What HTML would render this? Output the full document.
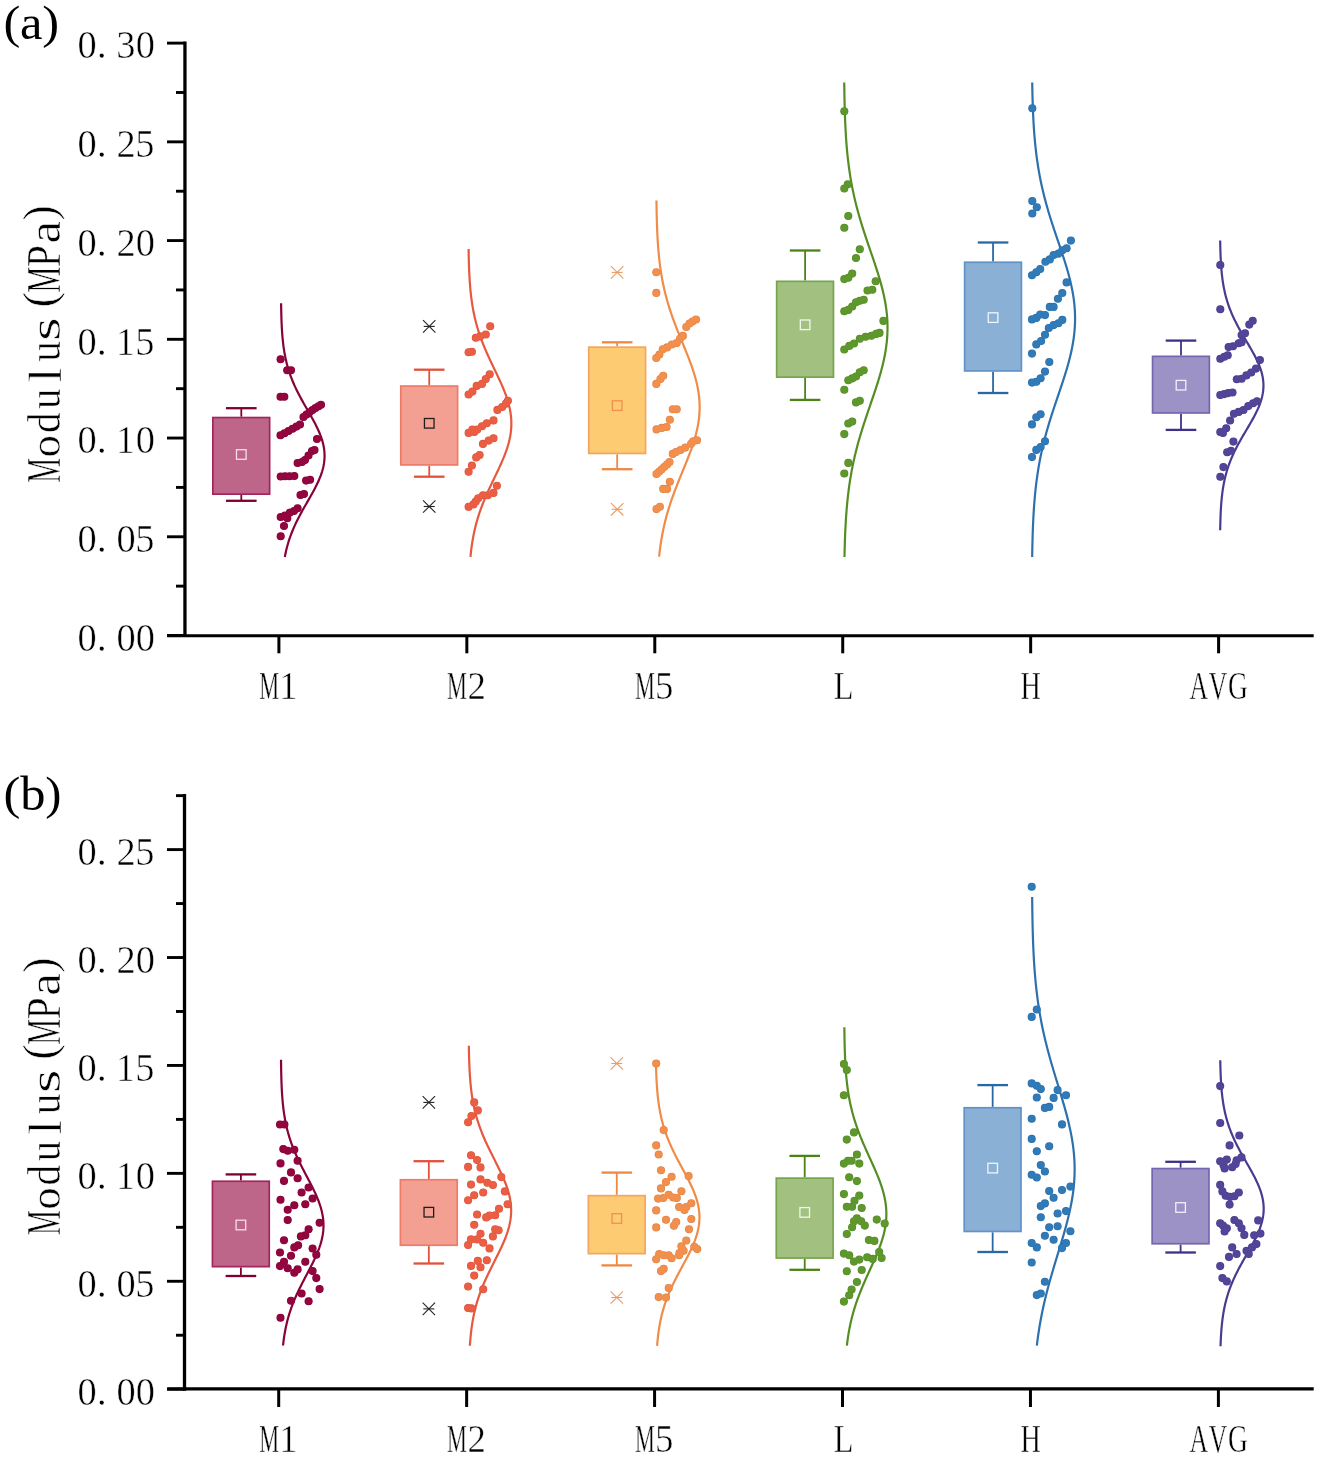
<!DOCTYPE html><html><head><meta charset="utf-8"><style>html,body{margin:0;padding:0;background:#fff;overflow:hidden;width:1319px;height:1458px;}svg{display:block;}.g{font-family:"Liberation Serif", serif;font-size:40px;fill:#000;stroke:#fff;stroke-width:0.5px;}.p{font-family:"Liberation Serif", serif;font-size:40px;fill:#000;}.xl{font-family:"Liberation Serif", serif;font-size:40px;fill:#000;}.pl{font-family:"Liberation Serif", serif;font-size:48px;fill:#000;}.yt{font-family:"Liberation Serif", serif;font-size:45px;fill:#000;}</style></head><body>
<svg width="1319" height="1458" viewBox="0 0 1319 1458">
<rect width="1319" height="1458" fill="#fff"/>
<defs><filter id="gf" x="0" y="0" width="1" height="1"><feOffset dx="0" dy="0"/></filter></defs>
<line x1="184.95" y1="41.6" x2="184.95" y2="637.0" stroke="#000" stroke-width="3.3"/>
<line x1="167.2" y1="635.75" x2="1313.7" y2="635.75" stroke="#000" stroke-width="3.2"/>
<line x1="167" y1="635.50" x2="184.95" y2="635.50" stroke="#000" stroke-width="2.9"/>
<line x1="176" y1="586.13" x2="184.95" y2="586.13" stroke="#000" stroke-width="2.9"/>
<line x1="167" y1="536.77" x2="184.95" y2="536.77" stroke="#000" stroke-width="2.9"/>
<line x1="176" y1="487.40" x2="184.95" y2="487.40" stroke="#000" stroke-width="2.9"/>
<line x1="167" y1="438.04" x2="184.95" y2="438.04" stroke="#000" stroke-width="2.9"/>
<line x1="176" y1="388.68" x2="184.95" y2="388.68" stroke="#000" stroke-width="2.9"/>
<line x1="167" y1="339.31" x2="184.95" y2="339.31" stroke="#000" stroke-width="2.9"/>
<line x1="176" y1="289.94" x2="184.95" y2="289.94" stroke="#000" stroke-width="2.9"/>
<line x1="167" y1="240.58" x2="184.95" y2="240.58" stroke="#000" stroke-width="2.9"/>
<line x1="176" y1="191.22" x2="184.95" y2="191.22" stroke="#000" stroke-width="2.9"/>
<line x1="167" y1="141.85" x2="184.95" y2="141.85" stroke="#000" stroke-width="2.9"/>
<line x1="176" y1="92.49" x2="184.95" y2="92.49" stroke="#000" stroke-width="2.9"/>
<line x1="167" y1="43.12" x2="184.95" y2="43.12" stroke="#000" stroke-width="2.9"/>
<line x1="278.90" y1="635.5" x2="278.90" y2="653.3" stroke="#000" stroke-width="3.0"/>
<line x1="466.84" y1="635.5" x2="466.84" y2="653.3" stroke="#000" stroke-width="3.0"/>
<line x1="654.78" y1="635.5" x2="654.78" y2="653.3" stroke="#000" stroke-width="3.0"/>
<line x1="842.72" y1="635.5" x2="842.72" y2="653.3" stroke="#000" stroke-width="3.0"/>
<line x1="1030.66" y1="635.5" x2="1030.66" y2="653.3" stroke="#000" stroke-width="3.0"/>
<line x1="1218.60" y1="635.5" x2="1218.60" y2="653.3" stroke="#000" stroke-width="3.0"/>
<line x1="241.30" y1="408.2" x2="241.30" y2="416.7" stroke="#7E0032" stroke-width="1.8"/>
<line x1="241.30" y1="495.0" x2="241.30" y2="500.8" stroke="#7E0032" stroke-width="1.8"/>
<line x1="226.00" y1="408.2" x2="256.60" y2="408.2" stroke="#7E0032" stroke-width="2.3"/>
<line x1="226.00" y1="500.8" x2="256.60" y2="500.8" stroke="#7E0032" stroke-width="2.3"/>
<rect x="212.85" y="417.55" width="56.80" height="76.60" fill="#BE6689" stroke="#A2265C" stroke-width="1.7"/>
<rect x="236.50" y="449.70" width="9.6" height="9.6" fill="none" stroke="#F4E0EA" stroke-width="1.3"/>
<path d="M281.10,303.20 L281.12,304.48 L281.14,305.75 L281.16,307.03 L281.18,308.30 L281.20,309.58 L281.23,310.85 L281.25,312.13 L281.28,313.40 L281.32,314.68 L281.35,315.95 L281.39,317.23 L281.43,318.50 L281.47,319.78 L281.52,321.06 L281.57,322.33 L281.63,323.61 L281.68,324.88 L281.75,326.16 L281.81,327.43 L281.88,328.71 L281.96,329.98 L282.04,331.26 L282.13,332.53 L282.22,333.81 L282.32,335.08 L282.42,336.36 L282.54,337.64 L282.65,338.91 L282.78,340.19 L282.91,341.46 L283.06,342.74 L283.20,344.01 L283.36,345.29 L283.53,346.56 L283.71,347.84 L283.89,349.11 L284.09,350.39 L284.29,351.66 L284.51,352.94 L284.74,354.22 L284.98,355.49 L285.23,356.77 L285.49,358.04 L285.77,359.32 L286.06,360.59 L286.36,361.87 L286.67,363.14 L287.00,364.42 L287.34,365.69 L287.70,366.97 L288.06,368.24 L288.45,369.52 L288.85,370.79 L289.26,372.07 L289.69,373.35 L290.13,374.62 L290.59,375.90 L291.06,377.17 L291.55,378.45 L292.05,379.72 L292.57,381.00 L293.10,382.27 L293.65,383.55 L294.21,384.82 L294.78,386.10 L295.37,387.37 L295.97,388.65 L296.59,389.93 L297.22,391.20 L297.86,392.48 L298.51,393.75 L299.17,395.03 L299.84,396.30 L300.53,397.58 L301.22,398.85 L301.92,400.13 L302.63,401.40 L303.34,402.68 L304.06,403.95 L304.79,405.23 L305.51,406.51 L306.24,407.78 L306.98,409.06 L307.71,410.33 L308.44,411.61 L309.18,412.88 L309.90,414.16 L310.63,415.43 L311.35,416.71 L312.06,417.98 L312.77,419.26 L313.46,420.53 L314.15,421.81 L314.82,423.09 L315.48,424.36 L316.13,425.64 L316.76,426.91 L317.38,428.19 L317.97,429.46 L318.55,430.74 L319.11,432.01 L319.65,433.29 L320.16,434.56 L320.65,435.84 L321.11,437.11 L321.55,438.39 L321.97,439.67 L322.35,440.94 L322.71,442.22 L323.03,443.49 L323.33,444.77 L323.60,446.04 L323.83,447.32 L324.04,448.59 L324.21,449.87 L324.34,451.14 L324.45,452.42 L324.52,453.69 L324.56,454.97 L324.57,456.25 L324.54,457.52 L324.48,458.80 L324.38,460.07 L324.25,461.35 L324.09,462.62 L323.90,463.90 L323.67,465.17 L323.42,466.45 L323.13,467.72 L322.81,469.00 L322.46,470.27 L322.09,471.55 L321.68,472.83 L321.25,474.10 L320.79,475.38 L320.31,476.65 L319.80,477.93 L319.27,479.20 L318.72,480.48 L318.15,481.75 L317.56,483.03 L316.95,484.30 L316.32,485.58 L315.68,486.85 L315.02,488.13 L314.35,489.41 L313.67,490.68 L312.98,491.96 L312.28,493.23 L311.57,494.51 L310.85,495.78 L310.13,497.06 L309.40,498.33 L308.67,499.61 L307.93,500.88 L307.20,502.16 L306.47,503.43 L305.74,504.71 L305.01,505.98 L304.28,507.26 L303.56,508.54 L302.84,509.81 L302.13,511.09 L301.43,512.36 L300.74,513.64 L300.05,514.91 L299.37,516.19 L298.71,517.46 L298.05,518.74 L297.41,520.01 L296.78,521.29 L296.16,522.56 L295.55,523.84 L294.96,525.12 L294.38,526.39 L293.82,527.67 L293.27,528.94 L292.73,530.22 L292.21,531.49 L291.70,532.77 L291.21,534.04 L290.73,535.32 L290.27,536.59 L289.82,537.87 L289.39,539.14 L288.97,540.42 L288.57,541.70 L288.18,542.97 L287.81,544.25 L287.45,545.52 L287.10,546.80 L286.77,548.07 L286.45,549.35 L286.15,550.62 L285.85,551.90 L285.57,553.17 L285.31,554.45 L285.05,555.72 L284.81,557.00" fill="none" stroke="#880238" stroke-width="2.2"/>
<g fill="#870439"><circle cx="280.6" cy="359.2" r="4.05"/><circle cx="287.2" cy="370.2" r="4.05"/><circle cx="291.0" cy="370.2" r="4.05"/><circle cx="280.5" cy="396.7" r="4.05"/><circle cx="284.3" cy="396.7" r="4.05"/><circle cx="280.5" cy="435.3" r="4.05"/><circle cx="284.5" cy="433.2" r="4.05"/><circle cx="288.5" cy="431" r="4.05"/><circle cx="292.5" cy="428.8" r="4.05"/><circle cx="296.5" cy="426.6" r="4.05"/><circle cx="300" cy="424.5" r="4.05"/><circle cx="303.5" cy="417" r="4.05"/><circle cx="306.5" cy="414.5" r="4.05"/><circle cx="309.5" cy="412.2" r="4.05"/><circle cx="312.5" cy="410" r="4.05"/><circle cx="315.5" cy="408" r="4.05"/><circle cx="318.5" cy="406.2" r="4.05"/><circle cx="321" cy="404.8" r="4.05"/><circle cx="317" cy="439" r="4.05"/><circle cx="297.6" cy="463" r="4.05"/><circle cx="302" cy="462" r="4.05"/><circle cx="305" cy="460" r="4.05"/><circle cx="308.5" cy="455.5" r="4.05"/><circle cx="312" cy="451" r="4.05"/><circle cx="314.5" cy="450" r="4.05"/><circle cx="280.7" cy="476.5" r="4.05"/><circle cx="285" cy="476.3" r="4.05"/><circle cx="289.5" cy="476.2" r="4.05"/><circle cx="294.3" cy="476" r="4.05"/><circle cx="306.1" cy="480.6" r="4.05"/><circle cx="310.1" cy="479.8" r="4.05"/><circle cx="300.5" cy="495" r="4.05"/><circle cx="304" cy="494" r="4.05"/><circle cx="280.7" cy="517" r="4.05"/><circle cx="285" cy="515.5" r="4.05"/><circle cx="290" cy="512.5" r="4.05"/><circle cx="294" cy="511" r="4.05"/><circle cx="297.6" cy="508.3" r="4.05"/><circle cx="287.3" cy="518.2" r="4.05"/><circle cx="284" cy="526" r="4.05"/><circle cx="280.7" cy="536.3" r="4.05"/></g>
<g fill="#93053F"><circle cx="280.6" cy="359.2" r="3.5"/><circle cx="287.2" cy="370.2" r="3.5"/><circle cx="291.0" cy="370.2" r="3.5"/><circle cx="280.5" cy="396.7" r="3.5"/><circle cx="284.3" cy="396.7" r="3.5"/><circle cx="280.5" cy="435.3" r="3.5"/><circle cx="284.5" cy="433.2" r="3.5"/><circle cx="288.5" cy="431" r="3.5"/><circle cx="292.5" cy="428.8" r="3.5"/><circle cx="296.5" cy="426.6" r="3.5"/><circle cx="300" cy="424.5" r="3.5"/><circle cx="303.5" cy="417" r="3.5"/><circle cx="306.5" cy="414.5" r="3.5"/><circle cx="309.5" cy="412.2" r="3.5"/><circle cx="312.5" cy="410" r="3.5"/><circle cx="315.5" cy="408" r="3.5"/><circle cx="318.5" cy="406.2" r="3.5"/><circle cx="321" cy="404.8" r="3.5"/><circle cx="317" cy="439" r="3.5"/><circle cx="297.6" cy="463" r="3.5"/><circle cx="302" cy="462" r="3.5"/><circle cx="305" cy="460" r="3.5"/><circle cx="308.5" cy="455.5" r="3.5"/><circle cx="312" cy="451" r="3.5"/><circle cx="314.5" cy="450" r="3.5"/><circle cx="280.7" cy="476.5" r="3.5"/><circle cx="285" cy="476.3" r="3.5"/><circle cx="289.5" cy="476.2" r="3.5"/><circle cx="294.3" cy="476" r="3.5"/><circle cx="306.1" cy="480.6" r="3.5"/><circle cx="310.1" cy="479.8" r="3.5"/><circle cx="300.5" cy="495" r="3.5"/><circle cx="304" cy="494" r="3.5"/><circle cx="280.7" cy="517" r="3.5"/><circle cx="285" cy="515.5" r="3.5"/><circle cx="290" cy="512.5" r="3.5"/><circle cx="294" cy="511" r="3.5"/><circle cx="297.6" cy="508.3" r="3.5"/><circle cx="287.3" cy="518.2" r="3.5"/><circle cx="284" cy="526" r="3.5"/><circle cx="280.7" cy="536.3" r="3.5"/></g>
<line x1="429.24" y1="369.7" x2="429.24" y2="385.2" stroke="#E2523A" stroke-width="1.8"/>
<line x1="429.24" y1="465.8" x2="429.24" y2="476.7" stroke="#E2523A" stroke-width="1.8"/>
<line x1="413.94" y1="369.7" x2="444.54" y2="369.7" stroke="#E2523A" stroke-width="2.3"/>
<line x1="413.94" y1="476.7" x2="444.54" y2="476.7" stroke="#E2523A" stroke-width="2.3"/>
<rect x="400.79" y="386.05" width="56.80" height="78.90" fill="#F3A092" stroke="#EE7B66" stroke-width="1.7"/>
<rect x="424.44" y="418.50" width="9.6" height="9.6" fill="none" stroke="#1E1E1E" stroke-width="1.3"/>
<g stroke="#222222" stroke-width="1.1" fill="none"><line x1="423.04" y1="320.20" x2="435.44" y2="332.60"/><line x1="423.04" y1="332.60" x2="435.44" y2="320.20"/><line x1="423.74" y1="326.4" x2="434.74" y2="326.4"/></g>
<g stroke="#222222" stroke-width="1.1" fill="none"><line x1="423.04" y1="500.30" x2="435.44" y2="512.70"/><line x1="423.04" y1="512.70" x2="435.44" y2="500.30"/><line x1="423.74" y1="506.5" x2="434.74" y2="506.5"/></g>
<path d="M468.60,249.10 L468.62,250.65 L468.65,252.19 L468.68,253.74 L468.71,255.28 L468.74,256.83 L468.78,258.38 L468.81,259.92 L468.86,261.47 L468.90,263.02 L468.95,264.56 L469.00,266.11 L469.05,267.65 L469.11,269.20 L469.18,270.75 L469.24,272.29 L469.32,273.84 L469.40,275.39 L469.48,276.93 L469.57,278.48 L469.67,280.02 L469.77,281.57 L469.88,283.12 L469.99,284.66 L470.11,286.21 L470.24,287.76 L470.38,289.30 L470.53,290.85 L470.69,292.39 L470.85,293.94 L471.03,295.49 L471.21,297.03 L471.40,298.58 L471.61,300.13 L471.83,301.67 L472.05,303.22 L472.29,304.76 L472.54,306.31 L472.81,307.86 L473.08,309.40 L473.37,310.95 L473.68,312.50 L473.99,314.04 L474.32,315.59 L474.67,317.13 L475.03,318.68 L475.40,320.23 L475.79,321.77 L476.20,323.32 L476.62,324.87 L477.05,326.41 L477.50,327.96 L477.97,329.50 L478.45,331.05 L478.95,332.60 L479.46,334.14 L479.99,335.69 L480.53,337.24 L481.09,338.78 L481.66,340.33 L482.25,341.87 L482.85,343.42 L483.47,344.97 L484.10,346.51 L484.74,348.06 L485.39,349.61 L486.06,351.15 L486.73,352.70 L487.42,354.24 L488.12,355.79 L488.82,357.34 L489.54,358.88 L490.26,360.43 L490.99,361.97 L491.72,363.52 L492.46,365.07 L493.20,366.61 L493.94,368.16 L494.68,369.71 L495.42,371.25 L496.16,372.80 L496.90,374.34 L497.63,375.89 L498.36,377.44 L499.08,378.98 L499.80,380.53 L500.50,382.08 L501.19,383.62 L501.87,385.17 L502.54,386.71 L503.19,388.26 L503.82,389.81 L504.44,391.35 L505.04,392.90 L505.62,394.45 L506.18,395.99 L506.71,397.54 L507.22,399.08 L507.70,400.63 L508.16,402.18 L508.59,403.72 L509.00,405.27 L509.37,406.82 L509.71,408.36 L510.03,409.91 L510.31,411.45 L510.56,413.00 L510.77,414.55 L510.96,416.09 L511.10,417.64 L511.22,419.19 L511.30,420.73 L511.34,422.28 L511.35,423.82 L511.33,425.37 L511.27,426.92 L511.18,428.46 L511.05,430.01 L510.89,431.56 L510.69,433.10 L510.46,434.65 L510.20,436.19 L509.90,437.74 L509.58,439.29 L509.22,440.83 L508.84,442.38 L508.42,443.93 L507.98,445.47 L507.51,447.02 L507.01,448.56 L506.49,450.11 L505.95,451.66 L505.38,453.20 L504.80,454.75 L504.19,456.29 L503.57,457.84 L502.92,459.39 L502.27,460.93 L501.59,462.48 L500.91,464.03 L500.21,465.57 L499.50,467.12 L498.79,468.66 L498.06,470.21 L497.33,471.76 L496.60,473.30 L495.86,474.85 L495.12,476.40 L494.37,477.94 L493.63,479.49 L492.89,481.03 L492.15,482.58 L491.42,484.13 L490.69,485.67 L489.96,487.22 L489.24,488.77 L488.53,490.31 L487.83,491.86 L487.14,493.40 L486.45,494.95 L485.78,496.50 L485.12,498.04 L484.47,499.59 L483.84,501.14 L483.21,502.68 L482.60,504.23 L482.01,505.77 L481.42,507.32 L480.86,508.87 L480.31,510.41 L479.77,511.96 L479.25,513.51 L478.74,515.05 L478.25,516.60 L477.77,518.14 L477.32,519.69 L476.87,521.24 L476.44,522.78 L476.03,524.33 L475.63,525.88 L475.25,527.42 L474.88,528.97 L474.53,530.51 L474.19,532.06 L473.86,533.61 L473.55,535.15 L473.25,536.70 L472.97,538.25 L472.70,539.79 L472.44,541.34 L472.19,542.88 L471.96,544.43 L471.74,545.98 L471.52,547.52 L471.32,549.07 L471.13,550.62 L470.95,552.16 L470.78,553.71 L470.62,555.25 L470.47,556.80" fill="none" stroke="#E6583F" stroke-width="2.2"/>
<g fill="#D8563E"><circle cx="490.2" cy="326.3" r="4.05"/><circle cx="475.8" cy="337.8" r="4.05"/><circle cx="480.1" cy="336.4" r="4.05"/><circle cx="485.8" cy="334.5" r="4.05"/><circle cx="468.6" cy="352.2" r="4.05"/><circle cx="471.9" cy="351.8" r="4.05"/><circle cx="468.6" cy="394.5" r="4.05"/><circle cx="472.4" cy="391.6" r="4.05"/><circle cx="476.7" cy="385.9" r="4.05"/><circle cx="482" cy="383.9" r="4.05"/><circle cx="485.8" cy="379.1" r="4.05"/><circle cx="489.7" cy="374.3" r="4.05"/><circle cx="497.4" cy="409.9" r="4.05"/><circle cx="502.2" cy="407" r="4.05"/><circle cx="506" cy="403.6" r="4.05"/><circle cx="507.9" cy="400.7" r="4.05"/><circle cx="468.6" cy="432.9" r="4.05"/><circle cx="472.4" cy="429.5" r="4.05"/><circle cx="477.2" cy="429.5" r="4.05"/><circle cx="482" cy="426.2" r="4.05"/><circle cx="486.8" cy="423.3" r="4.05"/><circle cx="493.5" cy="420.4" r="4.05"/><circle cx="474.3" cy="431.9" r="4.05"/><circle cx="483" cy="443.9" r="4.05"/><circle cx="488.7" cy="440.6" r="4.05"/><circle cx="493.5" cy="438.2" r="4.05"/><circle cx="476.2" cy="457.4" r="4.05"/><circle cx="479.6" cy="455" r="4.05"/><circle cx="471.9" cy="465.5" r="4.05"/><circle cx="468.6" cy="471.8" r="4.05"/><circle cx="496.9" cy="485.7" r="4.05"/><circle cx="468.6" cy="506.8" r="4.05"/><circle cx="473.4" cy="504.4" r="4.05"/><circle cx="475.8" cy="501.6" r="4.05"/><circle cx="478.2" cy="498.2" r="4.05"/><circle cx="483" cy="495.3" r="4.05"/><circle cx="487.8" cy="495.3" r="4.05"/><circle cx="493.5" cy="492.9" r="4.05"/></g>
<g fill="#EB5E44"><circle cx="490.2" cy="326.3" r="3.5"/><circle cx="475.8" cy="337.8" r="3.5"/><circle cx="480.1" cy="336.4" r="3.5"/><circle cx="485.8" cy="334.5" r="3.5"/><circle cx="468.6" cy="352.2" r="3.5"/><circle cx="471.9" cy="351.8" r="3.5"/><circle cx="468.6" cy="394.5" r="3.5"/><circle cx="472.4" cy="391.6" r="3.5"/><circle cx="476.7" cy="385.9" r="3.5"/><circle cx="482" cy="383.9" r="3.5"/><circle cx="485.8" cy="379.1" r="3.5"/><circle cx="489.7" cy="374.3" r="3.5"/><circle cx="497.4" cy="409.9" r="3.5"/><circle cx="502.2" cy="407" r="3.5"/><circle cx="506" cy="403.6" r="3.5"/><circle cx="507.9" cy="400.7" r="3.5"/><circle cx="468.6" cy="432.9" r="3.5"/><circle cx="472.4" cy="429.5" r="3.5"/><circle cx="477.2" cy="429.5" r="3.5"/><circle cx="482" cy="426.2" r="3.5"/><circle cx="486.8" cy="423.3" r="3.5"/><circle cx="493.5" cy="420.4" r="3.5"/><circle cx="474.3" cy="431.9" r="3.5"/><circle cx="483" cy="443.9" r="3.5"/><circle cx="488.7" cy="440.6" r="3.5"/><circle cx="493.5" cy="438.2" r="3.5"/><circle cx="476.2" cy="457.4" r="3.5"/><circle cx="479.6" cy="455" r="3.5"/><circle cx="471.9" cy="465.5" r="3.5"/><circle cx="468.6" cy="471.8" r="3.5"/><circle cx="496.9" cy="485.7" r="3.5"/><circle cx="468.6" cy="506.8" r="3.5"/><circle cx="473.4" cy="504.4" r="3.5"/><circle cx="475.8" cy="501.6" r="3.5"/><circle cx="478.2" cy="498.2" r="3.5"/><circle cx="483" cy="495.3" r="3.5"/><circle cx="487.8" cy="495.3" r="3.5"/><circle cx="493.5" cy="492.9" r="3.5"/></g>
<line x1="617.18" y1="342.3" x2="617.18" y2="346.3" stroke="#EE8842" stroke-width="1.8"/>
<line x1="617.18" y1="454.3" x2="617.18" y2="469.2" stroke="#EE8842" stroke-width="1.8"/>
<line x1="601.88" y1="342.3" x2="632.48" y2="342.3" stroke="#EE8842" stroke-width="2.3"/>
<line x1="601.88" y1="469.2" x2="632.48" y2="469.2" stroke="#EE8842" stroke-width="2.3"/>
<rect x="588.73" y="347.15" width="56.80" height="106.30" fill="#FCCB72" stroke="#F5A462" stroke-width="1.7"/>
<rect x="612.38" y="400.80" width="9.6" height="9.6" fill="none" stroke="#F38F4C" stroke-width="1.3"/>
<g stroke="#EC9A62" stroke-width="1.1" fill="none"><line x1="610.98" y1="266.20" x2="623.38" y2="278.60"/><line x1="610.98" y1="278.60" x2="623.38" y2="266.20"/><line x1="611.68" y1="272.4" x2="622.68" y2="272.4"/></g>
<g stroke="#EC9A62" stroke-width="1.1" fill="none"><line x1="610.98" y1="503.10" x2="623.38" y2="515.50"/><line x1="610.98" y1="515.50" x2="623.38" y2="503.10"/><line x1="611.68" y1="509.3" x2="622.68" y2="509.3"/></g>
<path d="M656.45,200.40 L656.47,202.19 L656.49,203.98 L656.52,205.77 L656.55,207.56 L656.58,209.35 L656.61,211.14 L656.65,212.93 L656.69,214.72 L656.73,216.51 L656.78,218.30 L656.83,220.09 L656.88,221.89 L656.94,223.68 L657.00,225.47 L657.06,227.26 L657.13,229.05 L657.21,230.84 L657.29,232.63 L657.37,234.42 L657.46,236.21 L657.56,238.00 L657.66,239.79 L657.77,241.58 L657.89,243.37 L658.01,245.16 L658.14,246.95 L658.28,248.74 L658.43,250.53 L658.58,252.32 L658.75,254.11 L658.92,255.90 L659.10,257.69 L659.30,259.48 L659.50,261.28 L659.71,263.07 L659.94,264.86 L660.17,266.65 L660.42,268.44 L660.68,270.23 L660.95,272.02 L661.24,273.81 L661.54,275.60 L661.85,277.39 L662.17,279.18 L662.51,280.97 L662.86,282.76 L663.23,284.55 L663.61,286.34 L664.01,288.13 L664.42,289.92 L664.84,291.71 L665.28,293.50 L665.74,295.29 L666.21,297.08 L666.69,298.87 L667.19,300.67 L667.71,302.46 L668.24,304.25 L668.78,306.04 L669.34,307.83 L669.92,309.62 L670.50,311.41 L671.10,313.20 L671.72,314.99 L672.35,316.78 L672.98,318.57 L673.64,320.36 L674.30,322.15 L674.97,323.94 L675.65,325.73 L676.34,327.52 L677.04,329.31 L677.75,331.10 L678.46,332.89 L679.18,334.68 L679.91,336.47 L680.64,338.26 L681.37,340.06 L682.10,341.85 L682.84,343.64 L683.57,345.43 L684.30,347.22 L685.03,349.01 L685.76,350.80 L686.48,352.59 L687.19,354.38 L687.90,356.17 L688.59,357.96 L689.28,359.75 L689.95,361.54 L690.61,363.33 L691.26,365.12 L691.89,366.91 L692.51,368.70 L693.10,370.49 L693.68,372.28 L694.24,374.07 L694.77,375.86 L695.28,377.65 L695.77,379.45 L696.23,381.24 L696.67,383.03 L697.08,384.82 L697.46,386.61 L697.82,388.40 L698.14,390.19 L698.44,391.98 L698.70,393.77 L698.93,395.56 L699.13,397.35 L699.30,399.14 L699.43,400.93 L699.53,402.72 L699.60,404.51 L699.63,406.30 L699.63,408.09 L699.60,409.88 L699.53,411.67 L699.43,413.46 L699.29,415.25 L699.12,417.04 L698.92,418.84 L698.69,420.63 L698.43,422.42 L698.13,424.21 L697.81,426.00 L697.46,427.79 L697.07,429.58 L696.66,431.37 L696.22,433.16 L695.76,434.95 L695.27,436.74 L694.76,438.53 L694.22,440.32 L693.67,442.11 L693.09,443.90 L692.49,445.69 L691.88,447.48 L691.25,449.27 L690.60,451.06 L689.94,452.85 L689.26,454.64 L688.58,456.43 L687.88,458.23 L687.17,460.02 L686.46,461.81 L685.74,463.60 L685.01,465.39 L684.29,467.18 L683.55,468.97 L682.82,470.76 L682.09,472.55 L681.35,474.34 L680.62,476.13 L679.89,477.92 L679.17,479.71 L678.45,481.50 L677.73,483.29 L677.03,485.08 L676.33,486.87 L675.64,488.66 L674.95,490.45 L674.28,492.24 L673.62,494.03 L672.97,495.82 L672.33,497.62 L671.70,499.41 L671.09,501.20 L670.49,502.99 L669.90,504.78 L669.33,506.57 L668.77,508.36 L668.23,510.15 L667.70,511.94 L667.18,513.73 L666.68,515.52 L666.20,517.31 L665.73,519.10 L665.27,520.89 L664.83,522.68 L664.41,524.47 L664.00,526.26 L663.60,528.05 L663.22,529.84 L662.86,531.63 L662.50,533.42 L662.17,535.21 L661.84,537.01 L661.53,538.80 L661.23,540.59 L660.95,542.38 L660.68,544.17 L660.42,545.96 L660.17,547.75 L659.93,549.54 L659.71,551.33 L659.49,553.12 L659.29,554.91 L659.10,556.70" fill="none" stroke="#F08C47" stroke-width="2.2"/>
<g fill="#DF8345"><circle cx="656.3" cy="272.3" r="4.05"/><circle cx="656.3" cy="292.9" r="4.05"/><circle cx="686.3" cy="327" r="4.05"/><circle cx="689.5" cy="323.5" r="4.05"/><circle cx="692.5" cy="321.5" r="4.05"/><circle cx="696" cy="319.5" r="4.05"/><circle cx="656.3" cy="358" r="4.05"/><circle cx="659.4" cy="354.6" r="4.05"/><circle cx="662.8" cy="349.3" r="4.05"/><circle cx="667.1" cy="347.4" r="4.05"/><circle cx="671.9" cy="344.5" r="4.05"/><circle cx="676.7" cy="343.1" r="4.05"/><circle cx="680" cy="338.7" r="4.05"/><circle cx="682.9" cy="335.9" r="4.05"/><circle cx="656.3" cy="383.9" r="4.05"/><circle cx="660.4" cy="379.1" r="4.05"/><circle cx="663.2" cy="375.7" r="4.05"/><circle cx="672.8" cy="409.2" r="4.05"/><circle cx="676.7" cy="409.2" r="4.05"/><circle cx="669.8" cy="419.8" r="4.05"/><circle cx="656.5" cy="429.4" r="4.05"/><circle cx="661.8" cy="427.9" r="4.05"/><circle cx="666.6" cy="427" r="4.05"/><circle cx="693.2" cy="441.3" r="4.05"/><circle cx="697" cy="440.3" r="4.05"/><circle cx="691.1" cy="443.8" r="4.05"/><circle cx="685.3" cy="447.6" r="4.05"/><circle cx="680.5" cy="450" r="4.05"/><circle cx="676" cy="452" r="4.05"/><circle cx="672.8" cy="453.9" r="4.05"/><circle cx="656.5" cy="474" r="4.05"/><circle cx="659" cy="471.8" r="4.05"/><circle cx="661.5" cy="469.5" r="4.05"/><circle cx="664.2" cy="467" r="4.05"/><circle cx="667" cy="464.5" r="4.05"/><circle cx="669.5" cy="462" r="4.05"/><circle cx="669.8" cy="481.7" r="4.05"/><circle cx="663.2" cy="488.9" r="4.05"/><circle cx="667.1" cy="488.9" r="4.05"/><circle cx="656.5" cy="509.1" r="4.05"/><circle cx="659.9" cy="506.7" r="4.05"/></g>
<g fill="#F38F4C"><circle cx="656.3" cy="272.3" r="3.5"/><circle cx="656.3" cy="292.9" r="3.5"/><circle cx="686.3" cy="327" r="3.5"/><circle cx="689.5" cy="323.5" r="3.5"/><circle cx="692.5" cy="321.5" r="3.5"/><circle cx="696" cy="319.5" r="3.5"/><circle cx="656.3" cy="358" r="3.5"/><circle cx="659.4" cy="354.6" r="3.5"/><circle cx="662.8" cy="349.3" r="3.5"/><circle cx="667.1" cy="347.4" r="3.5"/><circle cx="671.9" cy="344.5" r="3.5"/><circle cx="676.7" cy="343.1" r="3.5"/><circle cx="680" cy="338.7" r="3.5"/><circle cx="682.9" cy="335.9" r="3.5"/><circle cx="656.3" cy="383.9" r="3.5"/><circle cx="660.4" cy="379.1" r="3.5"/><circle cx="663.2" cy="375.7" r="3.5"/><circle cx="672.8" cy="409.2" r="3.5"/><circle cx="676.7" cy="409.2" r="3.5"/><circle cx="669.8" cy="419.8" r="3.5"/><circle cx="656.5" cy="429.4" r="3.5"/><circle cx="661.8" cy="427.9" r="3.5"/><circle cx="666.6" cy="427" r="3.5"/><circle cx="693.2" cy="441.3" r="3.5"/><circle cx="697" cy="440.3" r="3.5"/><circle cx="691.1" cy="443.8" r="3.5"/><circle cx="685.3" cy="447.6" r="3.5"/><circle cx="680.5" cy="450" r="3.5"/><circle cx="676" cy="452" r="3.5"/><circle cx="672.8" cy="453.9" r="3.5"/><circle cx="656.5" cy="474" r="3.5"/><circle cx="659" cy="471.8" r="3.5"/><circle cx="661.5" cy="469.5" r="3.5"/><circle cx="664.2" cy="467" r="3.5"/><circle cx="667" cy="464.5" r="3.5"/><circle cx="669.5" cy="462" r="3.5"/><circle cx="669.8" cy="481.7" r="3.5"/><circle cx="663.2" cy="488.9" r="3.5"/><circle cx="667.1" cy="488.9" r="3.5"/><circle cx="656.5" cy="509.1" r="3.5"/><circle cx="659.9" cy="506.7" r="3.5"/></g>
<line x1="805.12" y1="250.5" x2="805.12" y2="280.5" stroke="#4A8418" stroke-width="1.8"/>
<line x1="805.12" y1="378.0" x2="805.12" y2="399.9" stroke="#4A8418" stroke-width="1.8"/>
<line x1="789.82" y1="250.5" x2="820.42" y2="250.5" stroke="#4A8418" stroke-width="2.3"/>
<line x1="789.82" y1="399.9" x2="820.42" y2="399.9" stroke="#4A8418" stroke-width="2.3"/>
<rect x="776.67" y="281.35" width="56.80" height="95.80" fill="#A2C180" stroke="#76A44C" stroke-width="1.7"/>
<rect x="800.32" y="320.00" width="9.6" height="9.6" fill="none" stroke="#F2F7EE" stroke-width="1.3"/>
<path d="M844.23,82.40 L844.26,84.78 L844.29,87.17 L844.32,89.55 L844.36,91.94 L844.40,94.32 L844.44,96.71 L844.49,99.09 L844.54,101.48 L844.60,103.86 L844.66,106.25 L844.72,108.63 L844.79,111.02 L844.87,113.40 L844.95,115.79 L845.04,118.17 L845.13,120.56 L845.23,122.94 L845.34,125.33 L845.46,127.71 L845.58,130.10 L845.71,132.48 L845.86,134.87 L846.01,137.25 L846.17,139.64 L846.34,142.02 L846.52,144.41 L846.72,146.79 L846.93,149.18 L847.15,151.56 L847.38,153.95 L847.62,156.33 L847.88,158.72 L848.16,161.10 L848.45,163.49 L848.75,165.87 L849.07,168.26 L849.41,170.64 L849.76,173.03 L850.13,175.41 L850.51,177.80 L850.92,180.18 L851.34,182.57 L851.78,184.95 L852.24,187.34 L852.71,189.72 L853.21,192.11 L853.72,194.49 L854.25,196.88 L854.80,199.26 L855.37,201.65 L855.96,204.03 L856.57,206.42 L857.19,208.80 L857.83,211.19 L858.49,213.57 L859.17,215.96 L859.86,218.34 L860.56,220.73 L861.29,223.11 L862.02,225.50 L862.77,227.88 L863.53,230.27 L864.30,232.65 L865.09,235.04 L865.88,237.42 L866.68,239.81 L867.48,242.19 L868.29,244.57 L869.11,246.96 L869.93,249.34 L870.74,251.73 L871.56,254.11 L872.38,256.50 L873.19,258.88 L873.99,261.27 L874.79,263.65 L875.58,266.04 L876.36,268.42 L877.12,270.81 L877.87,273.19 L878.61,275.58 L879.33,277.96 L880.02,280.35 L880.70,282.73 L881.35,285.12 L881.98,287.50 L882.58,289.89 L883.15,292.27 L883.69,294.66 L884.20,297.04 L884.68,299.43 L885.13,301.81 L885.54,304.20 L885.91,306.58 L886.25,308.97 L886.55,311.35 L886.81,313.74 L887.03,316.12 L887.21,318.51 L887.35,320.89 L887.44,323.28 L887.50,325.66 L887.51,328.05 L887.48,330.43 L887.42,332.82 L887.30,335.20 L887.15,337.59 L886.96,339.97 L886.73,342.36 L886.45,344.74 L886.14,347.13 L885.79,349.51 L885.41,351.90 L884.99,354.28 L884.53,356.67 L884.04,359.05 L883.52,361.44 L882.96,363.82 L882.38,366.21 L881.77,368.59 L881.14,370.98 L880.48,373.36 L879.79,375.75 L879.09,378.13 L878.37,380.52 L877.63,382.90 L876.87,385.29 L876.10,387.67 L875.32,390.06 L874.53,392.44 L873.73,394.83 L872.92,397.21 L872.11,399.59 L871.29,401.98 L870.47,404.36 L869.66,406.75 L868.84,409.13 L868.03,411.52 L867.22,413.90 L866.41,416.29 L865.62,418.67 L864.83,421.06 L864.05,423.44 L863.28,425.83 L862.52,428.21 L861.78,430.60 L861.05,432.98 L860.33,435.37 L859.63,437.75 L858.94,440.14 L858.27,442.52 L857.62,444.91 L856.98,447.29 L856.37,449.68 L855.77,452.06 L855.18,454.45 L854.62,456.83 L854.08,459.22 L853.55,461.60 L853.04,463.99 L852.55,466.37 L852.08,468.76 L851.63,471.14 L851.20,473.53 L850.78,475.91 L850.38,478.30 L850.00,480.68 L849.64,483.07 L849.29,485.45 L848.96,487.84 L848.65,490.22 L848.35,492.61 L848.07,494.99 L847.80,497.38 L847.54,499.76 L847.30,502.15 L847.07,504.53 L846.86,506.92 L846.65,509.30 L846.46,511.69 L846.28,514.07 L846.11,516.46 L845.96,518.84 L845.81,521.23 L845.67,523.61 L845.54,526.00 L845.42,528.38 L845.30,530.77 L845.20,533.15 L845.10,535.54 L845.01,537.92 L844.92,540.31 L844.84,542.69 L844.77,545.08 L844.70,547.46 L844.64,549.85 L844.58,552.23 L844.53,554.62 L844.48,557.00" fill="none" stroke="#548E22" stroke-width="2.2"/>
<g fill="#568B28"><circle cx="844.3" cy="111.2" r="4.05"/><circle cx="844.3" cy="188.5" r="4.05"/><circle cx="847.8" cy="184.2" r="4.05"/><circle cx="848.3" cy="216" r="4.05"/><circle cx="844.3" cy="227.8" r="4.05"/><circle cx="859.8" cy="249.2" r="4.05"/><circle cx="856" cy="258" r="4.05"/><circle cx="844.3" cy="279.1" r="4.05"/><circle cx="848.3" cy="277.7" r="4.05"/><circle cx="852.2" cy="273.6" r="4.05"/><circle cx="875.7" cy="281.3" r="4.05"/><circle cx="867.5" cy="290.5" r="4.05"/><circle cx="872.3" cy="289.7" r="4.05"/><circle cx="844.3" cy="311.3" r="4.05"/><circle cx="848.3" cy="309.9" r="4.05"/><circle cx="852.2" cy="306.5" r="4.05"/><circle cx="856" cy="302.2" r="4.05"/><circle cx="859.8" cy="300.7" r="4.05"/><circle cx="863.7" cy="299.8" r="4.05"/><circle cx="883.4" cy="320.9" r="4.05"/><circle cx="844.3" cy="349.5" r="4.05"/><circle cx="849.3" cy="345.9" r="4.05"/><circle cx="854" cy="343.5" r="4.05"/><circle cx="859.8" cy="338.7" r="4.05"/><circle cx="865.6" cy="336.8" r="4.05"/><circle cx="871.4" cy="335.8" r="4.05"/><circle cx="876.2" cy="333.9" r="4.05"/><circle cx="879.5" cy="332.9" r="4.05"/><circle cx="848.3" cy="380.3" r="4.05"/><circle cx="852.2" cy="378.4" r="4.05"/><circle cx="856" cy="376.5" r="4.05"/><circle cx="859.8" cy="372.2" r="4.05"/><circle cx="863.7" cy="370.2" r="4.05"/><circle cx="844.3" cy="389.7" r="4.05"/><circle cx="856" cy="402.4" r="4.05"/><circle cx="859.8" cy="400.7" r="4.05"/><circle cx="848.3" cy="423.5" r="4.05"/><circle cx="852.2" cy="421.6" r="4.05"/><circle cx="844.3" cy="434.1" r="4.05"/><circle cx="848.3" cy="462.9" r="4.05"/><circle cx="844.3" cy="473.5" r="4.05"/></g>
<g fill="#5E982C"><circle cx="844.3" cy="111.2" r="3.5"/><circle cx="844.3" cy="188.5" r="3.5"/><circle cx="847.8" cy="184.2" r="3.5"/><circle cx="848.3" cy="216" r="3.5"/><circle cx="844.3" cy="227.8" r="3.5"/><circle cx="859.8" cy="249.2" r="3.5"/><circle cx="856" cy="258" r="3.5"/><circle cx="844.3" cy="279.1" r="3.5"/><circle cx="848.3" cy="277.7" r="3.5"/><circle cx="852.2" cy="273.6" r="3.5"/><circle cx="875.7" cy="281.3" r="3.5"/><circle cx="867.5" cy="290.5" r="3.5"/><circle cx="872.3" cy="289.7" r="3.5"/><circle cx="844.3" cy="311.3" r="3.5"/><circle cx="848.3" cy="309.9" r="3.5"/><circle cx="852.2" cy="306.5" r="3.5"/><circle cx="856" cy="302.2" r="3.5"/><circle cx="859.8" cy="300.7" r="3.5"/><circle cx="863.7" cy="299.8" r="3.5"/><circle cx="883.4" cy="320.9" r="3.5"/><circle cx="844.3" cy="349.5" r="3.5"/><circle cx="849.3" cy="345.9" r="3.5"/><circle cx="854" cy="343.5" r="3.5"/><circle cx="859.8" cy="338.7" r="3.5"/><circle cx="865.6" cy="336.8" r="3.5"/><circle cx="871.4" cy="335.8" r="3.5"/><circle cx="876.2" cy="333.9" r="3.5"/><circle cx="879.5" cy="332.9" r="3.5"/><circle cx="848.3" cy="380.3" r="3.5"/><circle cx="852.2" cy="378.4" r="3.5"/><circle cx="856" cy="376.5" r="3.5"/><circle cx="859.8" cy="372.2" r="3.5"/><circle cx="863.7" cy="370.2" r="3.5"/><circle cx="844.3" cy="389.7" r="3.5"/><circle cx="856" cy="402.4" r="3.5"/><circle cx="859.8" cy="400.7" r="3.5"/><circle cx="848.3" cy="423.5" r="3.5"/><circle cx="852.2" cy="421.6" r="3.5"/><circle cx="844.3" cy="434.1" r="3.5"/><circle cx="848.3" cy="462.9" r="3.5"/><circle cx="844.3" cy="473.5" r="3.5"/></g>
<line x1="993.06" y1="242.5" x2="993.06" y2="261.4" stroke="#2868A4" stroke-width="1.8"/>
<line x1="993.06" y1="371.8" x2="993.06" y2="393.0" stroke="#2868A4" stroke-width="1.8"/>
<line x1="977.76" y1="242.5" x2="1008.36" y2="242.5" stroke="#2868A4" stroke-width="2.3"/>
<line x1="977.76" y1="393.0" x2="1008.36" y2="393.0" stroke="#2868A4" stroke-width="2.3"/>
<rect x="964.61" y="262.25" width="56.80" height="108.70" fill="#8AB0D5" stroke="#6293C6" stroke-width="1.7"/>
<rect x="988.26" y="312.80" width="9.6" height="9.6" fill="none" stroke="#F0F5FA" stroke-width="1.3"/>
<path d="M1032.21,82.40 L1032.25,84.78 L1032.29,87.17 L1032.34,89.55 L1032.39,91.94 L1032.45,94.32 L1032.51,96.71 L1032.57,99.09 L1032.64,101.48 L1032.72,103.86 L1032.80,106.25 L1032.89,108.63 L1032.98,111.02 L1033.09,113.40 L1033.19,115.79 L1033.31,118.17 L1033.44,120.56 L1033.57,122.94 L1033.71,125.33 L1033.86,127.71 L1034.03,130.10 L1034.20,132.48 L1034.38,134.87 L1034.58,137.25 L1034.78,139.64 L1035.00,142.02 L1035.23,144.41 L1035.48,146.79 L1035.74,149.18 L1036.01,151.56 L1036.30,153.95 L1036.60,156.33 L1036.92,158.72 L1037.25,161.10 L1037.61,163.49 L1037.97,165.87 L1038.36,168.26 L1038.76,170.64 L1039.18,173.03 L1039.61,175.41 L1040.07,177.80 L1040.54,180.18 L1041.03,182.57 L1041.54,184.95 L1042.07,187.34 L1042.62,189.72 L1043.18,192.11 L1043.77,194.49 L1044.37,196.88 L1044.98,199.26 L1045.62,201.65 L1046.27,204.03 L1046.94,206.42 L1047.63,208.80 L1048.32,211.19 L1049.04,213.57 L1049.77,215.96 L1050.51,218.34 L1051.26,220.73 L1052.03,223.11 L1052.80,225.50 L1053.58,227.88 L1054.37,230.27 L1055.17,232.65 L1055.97,235.04 L1056.78,237.42 L1057.59,239.81 L1058.40,242.19 L1059.21,244.57 L1060.01,246.96 L1060.81,249.34 L1061.61,251.73 L1062.40,254.11 L1063.18,256.50 L1063.95,258.88 L1064.71,261.27 L1065.45,263.65 L1066.18,266.04 L1066.89,268.42 L1067.58,270.81 L1068.25,273.19 L1068.90,275.58 L1069.52,277.96 L1070.12,280.35 L1070.68,282.73 L1071.22,285.12 L1071.73,287.50 L1072.21,289.89 L1072.65,292.27 L1073.06,294.66 L1073.44,297.04 L1073.78,299.43 L1074.08,301.81 L1074.34,304.20 L1074.56,306.58 L1074.74,308.97 L1074.89,311.35 L1074.99,313.74 L1075.05,316.12 L1075.07,318.51 L1075.05,320.89 L1074.99,323.28 L1074.88,325.66 L1074.74,328.05 L1074.55,330.43 L1074.33,332.82 L1074.07,335.20 L1073.77,337.59 L1073.43,339.97 L1073.05,342.36 L1072.64,344.74 L1072.20,347.13 L1071.72,349.51 L1071.21,351.90 L1070.67,354.28 L1070.10,356.67 L1069.50,359.05 L1068.88,361.44 L1068.23,363.82 L1067.56,366.21 L1066.87,368.59 L1066.16,370.98 L1065.43,373.36 L1064.69,375.75 L1063.93,378.13 L1063.16,380.52 L1062.38,382.90 L1061.59,385.29 L1060.79,387.67 L1059.99,390.06 L1059.18,392.44 L1058.38,394.83 L1057.57,397.21 L1056.76,399.59 L1055.95,401.98 L1055.15,404.36 L1054.35,406.75 L1053.56,409.13 L1052.78,411.52 L1052.01,413.90 L1051.24,416.29 L1050.49,418.67 L1049.75,421.06 L1049.02,423.44 L1048.31,425.83 L1047.61,428.21 L1046.92,430.60 L1046.25,432.98 L1045.60,435.37 L1044.97,437.75 L1044.35,440.14 L1043.75,442.52 L1043.17,444.91 L1042.60,447.29 L1042.06,449.68 L1041.53,452.06 L1041.02,454.45 L1040.53,456.83 L1040.06,459.22 L1039.60,461.60 L1039.17,463.99 L1038.75,466.37 L1038.35,468.76 L1037.96,471.14 L1037.60,473.53 L1037.25,475.91 L1036.91,478.30 L1036.59,480.68 L1036.29,483.07 L1036.00,485.45 L1035.73,487.84 L1035.47,490.22 L1035.23,492.61 L1035.00,494.99 L1034.78,497.38 L1034.57,499.76 L1034.38,502.15 L1034.19,504.53 L1034.02,506.92 L1033.86,509.30 L1033.71,511.69 L1033.57,514.07 L1033.43,516.46 L1033.31,518.84 L1033.19,521.23 L1033.08,523.61 L1032.98,526.00 L1032.89,528.38 L1032.80,530.77 L1032.72,533.15 L1032.64,535.54 L1032.57,537.92 L1032.51,540.31 L1032.45,542.69 L1032.39,545.08 L1032.34,547.46 L1032.29,549.85 L1032.25,552.23 L1032.21,554.62 L1032.17,557.00" fill="none" stroke="#2C71AE" stroke-width="2.2"/>
<g fill="#2C70A9"><circle cx="1032.3" cy="108.3" r="4.05"/><circle cx="1032.3" cy="201" r="4.05"/><circle cx="1036.8" cy="207.2" r="4.05"/><circle cx="1032.3" cy="213.5" r="4.05"/><circle cx="1070.9" cy="240.6" r="4.05"/><circle cx="1032" cy="275.2" r="4.05"/><circle cx="1036.3" cy="272.3" r="4.05"/><circle cx="1040.2" cy="269" r="4.05"/><circle cx="1045.4" cy="261.8" r="4.05"/><circle cx="1049.8" cy="259.4" r="4.05"/><circle cx="1053.6" cy="255" r="4.05"/><circle cx="1058.4" cy="253.6" r="4.05"/><circle cx="1062.3" cy="250.2" r="4.05"/><circle cx="1066.6" cy="248.3" r="4.05"/><circle cx="1066.6" cy="282.4" r="4.05"/><circle cx="1062.3" cy="293" r="4.05"/><circle cx="1057.9" cy="298.7" r="4.05"/><circle cx="1049.8" cy="306.9" r="4.05"/><circle cx="1053.6" cy="306.9" r="4.05"/><circle cx="1032" cy="319.4" r="4.05"/><circle cx="1036.3" cy="317.9" r="4.05"/><circle cx="1040.2" cy="314.6" r="4.05"/><circle cx="1045" cy="315.1" r="4.05"/><circle cx="1062.3" cy="319.9" r="4.05"/><circle cx="1058.4" cy="323.2" r="4.05"/><circle cx="1053.6" cy="325.1" r="4.05"/><circle cx="1048.8" cy="328" r="4.05"/><circle cx="1045" cy="334.7" r="4.05"/><circle cx="1041.1" cy="341" r="4.05"/><circle cx="1036.3" cy="344.4" r="4.05"/><circle cx="1032" cy="353.6" r="4.05"/><circle cx="1049.3" cy="362" r="4.05"/><circle cx="1045" cy="371.6" r="4.05"/><circle cx="1032" cy="382.6" r="4.05"/><circle cx="1036.3" cy="381.7" r="4.05"/><circle cx="1040.6" cy="378.3" r="4.05"/><circle cx="1036.3" cy="417.2" r="4.05"/><circle cx="1040.6" cy="414.3" r="4.05"/><circle cx="1032" cy="424.4" r="4.05"/><circle cx="1045" cy="441.2" r="4.05"/><circle cx="1040.6" cy="447" r="4.05"/><circle cx="1036.3" cy="449.9" r="4.05"/><circle cx="1032" cy="457.1" r="4.05"/></g>
<g fill="#307AB8"><circle cx="1032.3" cy="108.3" r="3.5"/><circle cx="1032.3" cy="201" r="3.5"/><circle cx="1036.8" cy="207.2" r="3.5"/><circle cx="1032.3" cy="213.5" r="3.5"/><circle cx="1070.9" cy="240.6" r="3.5"/><circle cx="1032" cy="275.2" r="3.5"/><circle cx="1036.3" cy="272.3" r="3.5"/><circle cx="1040.2" cy="269" r="3.5"/><circle cx="1045.4" cy="261.8" r="3.5"/><circle cx="1049.8" cy="259.4" r="3.5"/><circle cx="1053.6" cy="255" r="3.5"/><circle cx="1058.4" cy="253.6" r="3.5"/><circle cx="1062.3" cy="250.2" r="3.5"/><circle cx="1066.6" cy="248.3" r="3.5"/><circle cx="1066.6" cy="282.4" r="3.5"/><circle cx="1062.3" cy="293" r="3.5"/><circle cx="1057.9" cy="298.7" r="3.5"/><circle cx="1049.8" cy="306.9" r="3.5"/><circle cx="1053.6" cy="306.9" r="3.5"/><circle cx="1032" cy="319.4" r="3.5"/><circle cx="1036.3" cy="317.9" r="3.5"/><circle cx="1040.2" cy="314.6" r="3.5"/><circle cx="1045" cy="315.1" r="3.5"/><circle cx="1062.3" cy="319.9" r="3.5"/><circle cx="1058.4" cy="323.2" r="3.5"/><circle cx="1053.6" cy="325.1" r="3.5"/><circle cx="1048.8" cy="328" r="3.5"/><circle cx="1045" cy="334.7" r="3.5"/><circle cx="1041.1" cy="341" r="3.5"/><circle cx="1036.3" cy="344.4" r="3.5"/><circle cx="1032" cy="353.6" r="3.5"/><circle cx="1049.3" cy="362" r="3.5"/><circle cx="1045" cy="371.6" r="3.5"/><circle cx="1032" cy="382.6" r="3.5"/><circle cx="1036.3" cy="381.7" r="3.5"/><circle cx="1040.6" cy="378.3" r="3.5"/><circle cx="1036.3" cy="417.2" r="3.5"/><circle cx="1040.6" cy="414.3" r="3.5"/><circle cx="1032" cy="424.4" r="3.5"/><circle cx="1045" cy="441.2" r="3.5"/><circle cx="1040.6" cy="447" r="3.5"/><circle cx="1036.3" cy="449.9" r="3.5"/><circle cx="1032" cy="457.1" r="3.5"/></g>
<line x1="1181.00" y1="340.6" x2="1181.00" y2="355.5" stroke="#3E3288" stroke-width="1.8"/>
<line x1="1181.00" y1="413.8" x2="1181.00" y2="429.9" stroke="#3E3288" stroke-width="1.8"/>
<line x1="1165.70" y1="340.6" x2="1196.30" y2="340.6" stroke="#3E3288" stroke-width="2.3"/>
<line x1="1165.70" y1="429.9" x2="1196.30" y2="429.9" stroke="#3E3288" stroke-width="2.3"/>
<rect x="1152.55" y="356.35" width="56.80" height="56.60" fill="#9C92C5" stroke="#7466AE" stroke-width="1.7"/>
<rect x="1176.20" y="380.40" width="9.6" height="9.6" fill="none" stroke="#F2F0F8" stroke-width="1.3"/>
<path d="M1220.17,240.60 L1220.20,242.06 L1220.22,243.51 L1220.25,244.97 L1220.28,246.42 L1220.32,247.88 L1220.36,249.33 L1220.40,250.79 L1220.45,252.24 L1220.50,253.70 L1220.55,255.15 L1220.61,256.61 L1220.68,258.06 L1220.75,259.52 L1220.82,260.97 L1220.90,262.43 L1220.99,263.88 L1221.09,265.34 L1221.19,266.79 L1221.31,268.25 L1221.43,269.71 L1221.56,271.16 L1221.70,272.62 L1221.85,274.07 L1222.01,275.53 L1222.18,276.98 L1222.36,278.44 L1222.56,279.89 L1222.77,281.35 L1222.99,282.80 L1223.22,284.26 L1223.47,285.71 L1223.74,287.17 L1224.02,288.62 L1224.32,290.08 L1224.63,291.53 L1224.96,292.99 L1225.31,294.45 L1225.68,295.90 L1226.07,297.36 L1226.47,298.81 L1226.90,300.27 L1227.34,301.72 L1227.81,303.18 L1228.29,304.63 L1228.80,306.09 L1229.32,307.54 L1229.87,309.00 L1230.44,310.45 L1231.03,311.91 L1231.64,313.36 L1232.27,314.82 L1232.91,316.27 L1233.58,317.73 L1234.27,319.18 L1234.98,320.64 L1235.70,322.10 L1236.45,323.55 L1237.20,325.01 L1237.98,326.46 L1238.77,327.92 L1239.57,329.37 L1240.39,330.83 L1241.21,332.28 L1242.05,333.74 L1242.89,335.19 L1243.74,336.65 L1244.60,338.10 L1245.46,339.56 L1246.32,341.01 L1247.18,342.47 L1248.04,343.92 L1248.90,345.38 L1249.75,346.84 L1250.59,348.29 L1251.43,349.75 L1252.25,351.20 L1253.06,352.66 L1253.85,354.11 L1254.62,355.57 L1255.37,357.02 L1256.10,358.48 L1256.81,359.93 L1257.49,361.39 L1258.14,362.84 L1258.76,364.30 L1259.35,365.75 L1259.91,367.21 L1260.43,368.66 L1260.91,370.12 L1261.36,371.57 L1261.76,373.03 L1262.13,374.49 L1262.45,375.94 L1262.73,377.40 L1262.96,378.85 L1263.15,380.31 L1263.30,381.76 L1263.40,383.22 L1263.45,384.67 L1263.45,386.13 L1263.41,387.58 L1263.32,389.04 L1263.19,390.49 L1263.01,391.95 L1262.79,393.40 L1262.52,394.86 L1262.21,396.31 L1261.85,397.77 L1261.46,399.23 L1261.02,400.68 L1260.55,402.14 L1260.04,403.59 L1259.49,405.05 L1258.91,406.50 L1258.29,407.96 L1257.65,409.41 L1256.97,410.87 L1256.27,412.32 L1255.55,413.78 L1254.80,415.23 L1254.03,416.69 L1253.24,418.14 L1252.44,419.60 L1251.62,421.05 L1250.79,422.51 L1249.95,423.96 L1249.10,425.42 L1248.25,426.88 L1247.39,428.33 L1246.53,429.79 L1245.66,431.24 L1244.80,432.70 L1243.94,434.15 L1243.09,435.61 L1242.25,437.06 L1241.41,438.52 L1240.58,439.97 L1239.76,441.43 L1238.96,442.88 L1238.16,444.34 L1237.39,445.79 L1236.62,447.25 L1235.88,448.70 L1235.15,450.16 L1234.44,451.62 L1233.74,453.07 L1233.07,454.53 L1232.42,455.98 L1231.78,457.44 L1231.17,458.89 L1230.58,460.35 L1230.00,461.80 L1229.45,463.26 L1228.92,464.71 L1228.41,466.17 L1227.92,467.62 L1227.45,469.08 L1227.00,470.53 L1226.57,471.99 L1226.16,473.44 L1225.77,474.90 L1225.40,476.35 L1225.04,477.81 L1224.71,479.27 L1224.39,480.72 L1224.09,482.18 L1223.80,483.63 L1223.53,485.09 L1223.28,486.54 L1223.04,488.00 L1222.82,489.45 L1222.60,490.91 L1222.41,492.36 L1222.22,493.82 L1222.05,495.27 L1221.88,496.73 L1221.73,498.18 L1221.59,499.64 L1221.46,501.09 L1221.33,502.55 L1221.22,504.01 L1221.11,505.46 L1221.02,506.92 L1220.92,508.37 L1220.84,509.83 L1220.76,511.28 L1220.69,512.74 L1220.63,514.19 L1220.56,515.65 L1220.51,517.10 L1220.46,518.56 L1220.41,520.01 L1220.37,521.47 L1220.33,522.92 L1220.29,524.38 L1220.26,525.83 L1220.23,527.29 L1220.20,528.74 L1220.18,530.20" fill="none" stroke="#483C90" stroke-width="2.2"/>
<g fill="#4B3F8C"><circle cx="1220.3" cy="265" r="4.05"/><circle cx="1220.3" cy="309.2" r="4.05"/><circle cx="1252.7" cy="320.7" r="4.05"/><circle cx="1249.3" cy="324.6" r="4.05"/><circle cx="1245" cy="333.2" r="4.05"/><circle cx="1241.6" cy="335.1" r="4.05"/><circle cx="1228.6" cy="347.1" r="4.05"/><circle cx="1233" cy="346.2" r="4.05"/><circle cx="1238.7" cy="343.3" r="4.05"/><circle cx="1241.6" cy="342.3" r="4.05"/><circle cx="1220.3" cy="358.7" r="4.05"/><circle cx="1224.3" cy="356.8" r="4.05"/><circle cx="1227.7" cy="355.3" r="4.05"/><circle cx="1259.9" cy="360" r="4.05"/><circle cx="1256" cy="368.6" r="4.05"/><circle cx="1251.2" cy="372.5" r="4.05"/><circle cx="1246.4" cy="375.4" r="4.05"/><circle cx="1241.6" cy="378.7" r="4.05"/><circle cx="1236.8" cy="379.2" r="4.05"/><circle cx="1220.3" cy="395" r="4.05"/><circle cx="1224.3" cy="394.1" r="4.05"/><circle cx="1228.2" cy="393.1" r="4.05"/><circle cx="1232.5" cy="392.5" r="4.05"/><circle cx="1233.9" cy="413.8" r="4.05"/><circle cx="1238.7" cy="411.9" r="4.05"/><circle cx="1243.5" cy="410" r="4.05"/><circle cx="1248.3" cy="406.1" r="4.05"/><circle cx="1253.1" cy="403.2" r="4.05"/><circle cx="1257" cy="401.3" r="4.05"/><circle cx="1230.1" cy="420.5" r="4.05"/><circle cx="1226.2" cy="428.2" r="4.05"/><circle cx="1220.3" cy="432" r="4.05"/><circle cx="1222.9" cy="433" r="4.05"/><circle cx="1233.4" cy="441.6" r="4.05"/><circle cx="1227.2" cy="452.2" r="4.05"/><circle cx="1231" cy="450.7" r="4.05"/><circle cx="1223.4" cy="467.1" r="4.05"/><circle cx="1220.3" cy="476.7" r="4.05"/></g>
<g fill="#524599"><circle cx="1220.3" cy="265" r="3.5"/><circle cx="1220.3" cy="309.2" r="3.5"/><circle cx="1252.7" cy="320.7" r="3.5"/><circle cx="1249.3" cy="324.6" r="3.5"/><circle cx="1245" cy="333.2" r="3.5"/><circle cx="1241.6" cy="335.1" r="3.5"/><circle cx="1228.6" cy="347.1" r="3.5"/><circle cx="1233" cy="346.2" r="3.5"/><circle cx="1238.7" cy="343.3" r="3.5"/><circle cx="1241.6" cy="342.3" r="3.5"/><circle cx="1220.3" cy="358.7" r="3.5"/><circle cx="1224.3" cy="356.8" r="3.5"/><circle cx="1227.7" cy="355.3" r="3.5"/><circle cx="1259.9" cy="360" r="3.5"/><circle cx="1256" cy="368.6" r="3.5"/><circle cx="1251.2" cy="372.5" r="3.5"/><circle cx="1246.4" cy="375.4" r="3.5"/><circle cx="1241.6" cy="378.7" r="3.5"/><circle cx="1236.8" cy="379.2" r="3.5"/><circle cx="1220.3" cy="395" r="3.5"/><circle cx="1224.3" cy="394.1" r="3.5"/><circle cx="1228.2" cy="393.1" r="3.5"/><circle cx="1232.5" cy="392.5" r="3.5"/><circle cx="1233.9" cy="413.8" r="3.5"/><circle cx="1238.7" cy="411.9" r="3.5"/><circle cx="1243.5" cy="410" r="3.5"/><circle cx="1248.3" cy="406.1" r="3.5"/><circle cx="1253.1" cy="403.2" r="3.5"/><circle cx="1257" cy="401.3" r="3.5"/><circle cx="1230.1" cy="420.5" r="3.5"/><circle cx="1226.2" cy="428.2" r="3.5"/><circle cx="1220.3" cy="432" r="3.5"/><circle cx="1222.9" cy="433" r="3.5"/><circle cx="1233.4" cy="441.6" r="3.5"/><circle cx="1227.2" cy="452.2" r="3.5"/><circle cx="1231" cy="450.7" r="3.5"/><circle cx="1223.4" cy="467.1" r="3.5"/><circle cx="1220.3" cy="476.7" r="3.5"/></g>
<line x1="184.5" y1="794.1" x2="184.5" y2="1390.7" stroke="#000" stroke-width="3.3"/>
<line x1="167.2" y1="1388.9" x2="1313.7" y2="1388.9" stroke="#000" stroke-width="3.2"/>
<line x1="167" y1="1389.20" x2="184.5" y2="1389.20" stroke="#000" stroke-width="2.9"/>
<line x1="176" y1="1335.24" x2="184.5" y2="1335.24" stroke="#000" stroke-width="2.9"/>
<line x1="167" y1="1281.28" x2="184.5" y2="1281.28" stroke="#000" stroke-width="2.9"/>
<line x1="176" y1="1227.32" x2="184.5" y2="1227.32" stroke="#000" stroke-width="2.9"/>
<line x1="167" y1="1173.36" x2="184.5" y2="1173.36" stroke="#000" stroke-width="2.9"/>
<line x1="176" y1="1119.40" x2="184.5" y2="1119.40" stroke="#000" stroke-width="2.9"/>
<line x1="167" y1="1065.44" x2="184.5" y2="1065.44" stroke="#000" stroke-width="2.9"/>
<line x1="176" y1="1011.48" x2="184.5" y2="1011.48" stroke="#000" stroke-width="2.9"/>
<line x1="167" y1="957.52" x2="184.5" y2="957.52" stroke="#000" stroke-width="2.9"/>
<line x1="176" y1="903.56" x2="184.5" y2="903.56" stroke="#000" stroke-width="2.9"/>
<line x1="167" y1="849.60" x2="184.5" y2="849.60" stroke="#000" stroke-width="2.9"/>
<line x1="176" y1="795.64" x2="184.5" y2="795.64" stroke="#000" stroke-width="2.9"/>
<line x1="278.70" y1="1389.2" x2="278.70" y2="1407.0" stroke="#000" stroke-width="3.0"/>
<line x1="466.64" y1="1389.2" x2="466.64" y2="1407.0" stroke="#000" stroke-width="3.0"/>
<line x1="654.58" y1="1389.2" x2="654.58" y2="1407.0" stroke="#000" stroke-width="3.0"/>
<line x1="842.52" y1="1389.2" x2="842.52" y2="1407.0" stroke="#000" stroke-width="3.0"/>
<line x1="1030.46" y1="1389.2" x2="1030.46" y2="1407.0" stroke="#000" stroke-width="3.0"/>
<line x1="1218.40" y1="1389.2" x2="1218.40" y2="1407.0" stroke="#000" stroke-width="3.0"/>
<line x1="240.90" y1="1174.4" x2="240.90" y2="1180.4" stroke="#7E0032" stroke-width="1.8"/>
<line x1="240.90" y1="1267.5" x2="240.90" y2="1276.0" stroke="#7E0032" stroke-width="1.8"/>
<line x1="225.60" y1="1174.4" x2="256.20" y2="1174.4" stroke="#7E0032" stroke-width="2.3"/>
<line x1="225.60" y1="1276.0" x2="256.20" y2="1276.0" stroke="#7E0032" stroke-width="2.3"/>
<rect x="212.45" y="1181.25" width="56.80" height="85.40" fill="#BE6689" stroke="#A2265C" stroke-width="1.7"/>
<rect x="236.10" y="1220.20" width="9.6" height="9.6" fill="none" stroke="#F4E0EA" stroke-width="1.3"/>
<path d="M281.03,1059.80 L281.04,1061.24 L281.06,1062.67 L281.08,1064.11 L281.10,1065.54 L281.12,1066.98 L281.14,1068.41 L281.17,1069.85 L281.19,1071.29 L281.22,1072.72 L281.26,1074.16 L281.29,1075.59 L281.33,1077.03 L281.37,1078.46 L281.41,1079.90 L281.46,1081.34 L281.51,1082.77 L281.57,1084.21 L281.63,1085.64 L281.69,1087.08 L281.76,1088.51 L281.83,1089.95 L281.91,1091.38 L282.00,1092.82 L282.09,1094.26 L282.18,1095.69 L282.29,1097.13 L282.40,1098.56 L282.52,1100.00 L282.64,1101.43 L282.78,1102.87 L282.92,1104.31 L283.07,1105.74 L283.23,1107.18 L283.40,1108.61 L283.58,1110.05 L283.77,1111.48 L283.97,1112.92 L284.19,1114.36 L284.41,1115.79 L284.65,1117.23 L284.89,1118.66 L285.16,1120.10 L285.43,1121.53 L285.72,1122.97 L286.02,1124.41 L286.34,1125.84 L286.67,1127.28 L287.01,1128.71 L287.37,1130.15 L287.75,1131.58 L288.14,1133.02 L288.55,1134.46 L288.97,1135.89 L289.41,1137.33 L289.86,1138.76 L290.33,1140.20 L290.82,1141.63 L291.33,1143.07 L291.85,1144.51 L292.38,1145.94 L292.93,1147.38 L293.50,1148.81 L294.08,1150.25 L294.68,1151.68 L295.30,1153.12 L295.92,1154.55 L296.56,1155.99 L297.22,1157.43 L297.89,1158.86 L298.57,1160.30 L299.26,1161.73 L299.96,1163.17 L300.67,1164.60 L301.39,1166.04 L302.12,1167.48 L302.86,1168.91 L303.60,1170.35 L304.35,1171.78 L305.10,1173.22 L305.85,1174.65 L306.61,1176.09 L307.36,1177.53 L308.12,1178.96 L308.87,1180.40 L309.62,1181.83 L310.36,1183.27 L311.10,1184.70 L311.82,1186.14 L312.54,1187.58 L313.25,1189.01 L313.95,1190.45 L314.63,1191.88 L315.29,1193.32 L315.94,1194.75 L316.57,1196.19 L317.18,1197.63 L317.77,1199.06 L318.34,1200.50 L318.89,1201.93 L319.40,1203.37 L319.90,1204.80 L320.36,1206.24 L320.80,1207.67 L321.21,1209.11 L321.58,1210.55 L321.93,1211.98 L322.24,1213.42 L322.52,1214.85 L322.76,1216.29 L322.98,1217.72 L323.15,1219.16 L323.29,1220.60 L323.40,1222.03 L323.46,1223.47 L323.49,1224.90 L323.49,1226.34 L323.45,1227.77 L323.37,1229.21 L323.26,1230.65 L323.11,1232.08 L322.92,1233.52 L322.71,1234.95 L322.45,1236.39 L322.16,1237.82 L321.84,1239.26 L321.49,1240.70 L321.11,1242.13 L320.69,1243.57 L320.25,1245.00 L319.77,1246.44 L319.28,1247.87 L318.75,1249.31 L318.20,1250.75 L317.63,1252.18 L317.03,1253.62 L316.41,1255.05 L315.78,1256.49 L315.12,1257.92 L314.45,1259.36 L313.77,1260.79 L313.07,1262.23 L312.36,1263.67 L311.64,1265.10 L310.91,1266.54 L310.17,1267.97 L309.43,1269.41 L308.68,1270.84 L307.92,1272.28 L307.17,1273.72 L306.41,1275.15 L305.66,1276.59 L304.91,1278.02 L304.16,1279.46 L303.41,1280.89 L302.67,1282.33 L301.93,1283.77 L301.21,1285.20 L300.49,1286.64 L299.78,1288.07 L299.08,1289.51 L298.39,1290.94 L297.72,1292.38 L297.05,1293.82 L296.40,1295.25 L295.76,1296.69 L295.14,1298.12 L294.53,1299.56 L293.93,1300.99 L293.35,1302.43 L292.79,1303.87 L292.24,1305.30 L291.71,1306.74 L291.20,1308.17 L290.70,1309.61 L290.21,1311.04 L289.75,1312.48 L289.29,1313.92 L288.86,1315.35 L288.44,1316.79 L288.04,1318.22 L287.65,1319.66 L287.28,1321.09 L286.92,1322.53 L286.58,1323.96 L286.25,1325.40 L285.94,1326.84 L285.64,1328.27 L285.36,1329.71 L285.09,1331.14 L284.83,1332.58 L284.58,1334.01 L284.35,1335.45 L284.13,1336.89 L283.92,1338.32 L283.72,1339.76 L283.53,1341.19 L283.36,1342.63 L283.19,1344.06 L283.03,1345.50" fill="none" stroke="#880238" stroke-width="2.2"/>
<g fill="#870439"><circle cx="280" cy="1124.5" r="4.05"/><circle cx="284.4" cy="1124.5" r="4.05"/><circle cx="283.3" cy="1149.1" r="4.05"/><circle cx="287.7" cy="1150.8" r="4.05"/><circle cx="294.3" cy="1149.7" r="4.05"/><circle cx="280.5" cy="1163.4" r="4.05"/><circle cx="297.6" cy="1160.7" r="4.05"/><circle cx="291" cy="1172.4" r="4.05"/><circle cx="297.6" cy="1178.3" r="4.05"/><circle cx="284" cy="1180.9" r="4.05"/><circle cx="308.6" cy="1187.5" r="4.05"/><circle cx="301.6" cy="1192.5" r="4.05"/><circle cx="312.6" cy="1198.5" r="4.05"/><circle cx="280.5" cy="1199.8" r="4.05"/><circle cx="294.3" cy="1205.3" r="4.05"/><circle cx="305.3" cy="1204.2" r="4.05"/><circle cx="287.7" cy="1209.7" r="4.05"/><circle cx="287.7" cy="1220" r="4.05"/><circle cx="319.6" cy="1222.8" r="4.05"/><circle cx="308.6" cy="1229.2" r="4.05"/><circle cx="300.9" cy="1236.4" r="4.05"/><circle cx="305.3" cy="1235.3" r="4.05"/><circle cx="284" cy="1240.2" r="4.05"/><circle cx="298.1" cy="1245.2" r="4.05"/><circle cx="294.3" cy="1247.4" r="4.05"/><circle cx="312.6" cy="1248.5" r="4.05"/><circle cx="280" cy="1252.5" r="4.05"/><circle cx="291" cy="1255.8" r="4.05"/><circle cx="316.3" cy="1254.7" r="4.05"/><circle cx="284" cy="1261.7" r="4.05"/><circle cx="305.3" cy="1261.7" r="4.05"/><circle cx="280" cy="1266.1" r="4.05"/><circle cx="287.7" cy="1268.3" r="4.05"/><circle cx="297.6" cy="1269.4" r="4.05"/><circle cx="294.3" cy="1272.7" r="4.05"/><circle cx="312.6" cy="1271.1" r="4.05"/><circle cx="316.3" cy="1278.1" r="4.05"/><circle cx="319.6" cy="1289.1" r="4.05"/><circle cx="301.6" cy="1293.5" r="4.05"/><circle cx="291" cy="1300.8" r="4.05"/><circle cx="308.6" cy="1301.2" r="4.05"/><circle cx="280.5" cy="1317.7" r="4.05"/></g>
<g fill="#93053F"><circle cx="280" cy="1124.5" r="3.5"/><circle cx="284.4" cy="1124.5" r="3.5"/><circle cx="283.3" cy="1149.1" r="3.5"/><circle cx="287.7" cy="1150.8" r="3.5"/><circle cx="294.3" cy="1149.7" r="3.5"/><circle cx="280.5" cy="1163.4" r="3.5"/><circle cx="297.6" cy="1160.7" r="3.5"/><circle cx="291" cy="1172.4" r="3.5"/><circle cx="297.6" cy="1178.3" r="3.5"/><circle cx="284" cy="1180.9" r="3.5"/><circle cx="308.6" cy="1187.5" r="3.5"/><circle cx="301.6" cy="1192.5" r="3.5"/><circle cx="312.6" cy="1198.5" r="3.5"/><circle cx="280.5" cy="1199.8" r="3.5"/><circle cx="294.3" cy="1205.3" r="3.5"/><circle cx="305.3" cy="1204.2" r="3.5"/><circle cx="287.7" cy="1209.7" r="3.5"/><circle cx="287.7" cy="1220" r="3.5"/><circle cx="319.6" cy="1222.8" r="3.5"/><circle cx="308.6" cy="1229.2" r="3.5"/><circle cx="300.9" cy="1236.4" r="3.5"/><circle cx="305.3" cy="1235.3" r="3.5"/><circle cx="284" cy="1240.2" r="3.5"/><circle cx="298.1" cy="1245.2" r="3.5"/><circle cx="294.3" cy="1247.4" r="3.5"/><circle cx="312.6" cy="1248.5" r="3.5"/><circle cx="280" cy="1252.5" r="3.5"/><circle cx="291" cy="1255.8" r="3.5"/><circle cx="316.3" cy="1254.7" r="3.5"/><circle cx="284" cy="1261.7" r="3.5"/><circle cx="305.3" cy="1261.7" r="3.5"/><circle cx="280" cy="1266.1" r="3.5"/><circle cx="287.7" cy="1268.3" r="3.5"/><circle cx="297.6" cy="1269.4" r="3.5"/><circle cx="294.3" cy="1272.7" r="3.5"/><circle cx="312.6" cy="1271.1" r="3.5"/><circle cx="316.3" cy="1278.1" r="3.5"/><circle cx="319.6" cy="1289.1" r="3.5"/><circle cx="301.6" cy="1293.5" r="3.5"/><circle cx="291" cy="1300.8" r="3.5"/><circle cx="308.6" cy="1301.2" r="3.5"/><circle cx="280.5" cy="1317.7" r="3.5"/></g>
<line x1="428.84" y1="1161.2" x2="428.84" y2="1178.9" stroke="#E2523A" stroke-width="1.8"/>
<line x1="428.84" y1="1246.1" x2="428.84" y2="1263.5" stroke="#E2523A" stroke-width="1.8"/>
<line x1="413.54" y1="1161.2" x2="444.14" y2="1161.2" stroke="#E2523A" stroke-width="2.3"/>
<line x1="413.54" y1="1263.5" x2="444.14" y2="1263.5" stroke="#E2523A" stroke-width="2.3"/>
<rect x="400.39" y="1179.75" width="56.80" height="65.50" fill="#F3A092" stroke="#EE7B66" stroke-width="1.7"/>
<rect x="424.04" y="1207.40" width="9.6" height="9.6" fill="none" stroke="#1E1E1E" stroke-width="1.3"/>
<g stroke="#222222" stroke-width="1.1" fill="none"><line x1="422.64" y1="1096.20" x2="435.04" y2="1108.60"/><line x1="422.64" y1="1108.60" x2="435.04" y2="1096.20"/><line x1="423.34" y1="1102.4" x2="434.34" y2="1102.4"/></g>
<g stroke="#222222" stroke-width="1.1" fill="none"><line x1="422.64" y1="1302.70" x2="435.04" y2="1315.10"/><line x1="422.64" y1="1315.10" x2="435.04" y2="1302.70"/><line x1="423.34" y1="1308.9" x2="434.34" y2="1308.9"/></g>
<path d="M468.86,1045.80 L468.89,1047.31 L468.91,1048.82 L468.94,1050.32 L468.97,1051.83 L469.00,1053.34 L469.03,1054.85 L469.07,1056.35 L469.11,1057.86 L469.16,1059.37 L469.20,1060.88 L469.25,1062.38 L469.31,1063.89 L469.37,1065.40 L469.43,1066.91 L469.50,1068.41 L469.58,1069.92 L469.66,1071.43 L469.74,1072.94 L469.83,1074.44 L469.93,1075.95 L470.04,1077.46 L470.15,1078.97 L470.27,1080.47 L470.39,1081.98 L470.53,1083.49 L470.67,1085.00 L470.83,1086.50 L470.99,1088.01 L471.16,1089.52 L471.34,1091.03 L471.54,1092.53 L471.74,1094.04 L471.96,1095.55 L472.19,1097.06 L472.43,1098.56 L472.68,1100.07 L472.95,1101.58 L473.23,1103.09 L473.52,1104.59 L473.83,1106.10 L474.15,1107.61 L474.49,1109.12 L474.84,1110.62 L475.21,1112.13 L475.59,1113.64 L475.99,1115.15 L476.41,1116.65 L476.84,1118.16 L477.29,1119.67 L477.76,1121.18 L478.24,1122.68 L478.74,1124.19 L479.26,1125.70 L479.79,1127.21 L480.34,1128.71 L480.90,1130.22 L481.48,1131.73 L482.08,1133.24 L482.69,1134.74 L483.32,1136.25 L483.96,1137.76 L484.61,1139.27 L485.28,1140.77 L485.96,1142.28 L486.66,1143.79 L487.36,1145.30 L488.08,1146.81 L488.80,1148.31 L489.54,1149.82 L490.28,1151.33 L491.03,1152.84 L491.78,1154.34 L492.54,1155.85 L493.30,1157.36 L494.06,1158.87 L494.82,1160.37 L495.59,1161.88 L496.35,1163.39 L497.11,1164.90 L497.86,1166.40 L498.61,1167.91 L499.34,1169.42 L500.07,1170.93 L500.79,1172.43 L501.50,1173.94 L502.19,1175.45 L502.86,1176.96 L503.52,1178.46 L504.16,1179.97 L504.78,1181.48 L505.38,1182.99 L505.96,1184.49 L506.51,1186.00 L507.04,1187.51 L507.54,1189.02 L508.01,1190.52 L508.45,1192.03 L508.86,1193.54 L509.24,1195.05 L509.59,1196.55 L509.91,1198.06 L510.19,1199.57 L510.43,1201.08 L510.65,1202.58 L510.82,1204.09 L510.96,1205.60 L511.06,1207.11 L511.12,1208.61 L511.15,1210.12 L511.14,1211.63 L511.10,1213.14 L511.01,1214.64 L510.89,1216.15 L510.73,1217.66 L510.54,1219.17 L510.31,1220.67 L510.04,1222.18 L509.74,1223.69 L509.41,1225.20 L509.05,1226.70 L508.65,1228.21 L508.22,1229.72 L507.76,1231.23 L507.28,1232.73 L506.76,1234.24 L506.22,1235.75 L505.66,1237.26 L505.07,1238.76 L504.46,1240.27 L503.83,1241.78 L503.18,1243.29 L502.51,1244.79 L501.82,1246.30 L501.12,1247.81 L500.41,1249.32 L499.69,1250.83 L498.95,1252.33 L498.21,1253.84 L497.46,1255.35 L496.71,1256.86 L495.95,1258.36 L495.18,1259.87 L494.42,1261.38 L493.66,1262.89 L492.89,1264.39 L492.14,1265.90 L491.38,1267.41 L490.63,1268.92 L489.88,1270.42 L489.15,1271.93 L488.42,1273.44 L487.70,1274.95 L486.99,1276.45 L486.29,1277.96 L485.60,1279.47 L484.93,1280.98 L484.26,1282.48 L483.62,1283.99 L482.98,1285.50 L482.36,1287.01 L481.76,1288.51 L481.17,1290.02 L480.60,1291.53 L480.04,1293.04 L479.50,1294.54 L478.98,1296.05 L478.47,1297.56 L477.98,1299.07 L477.51,1300.57 L477.05,1302.08 L476.61,1303.59 L476.19,1305.10 L475.78,1306.60 L475.39,1308.11 L475.01,1309.62 L474.65,1311.13 L474.31,1312.63 L473.98,1314.14 L473.66,1315.65 L473.36,1317.16 L473.08,1318.66 L472.80,1320.17 L472.54,1321.68 L472.30,1323.19 L472.06,1324.69 L471.84,1326.20 L471.63,1327.71 L471.43,1329.22 L471.25,1330.72 L471.07,1332.23 L470.90,1333.74 L470.74,1335.25 L470.60,1336.75 L470.46,1338.26 L470.33,1339.77 L470.20,1341.28 L470.09,1342.78 L469.98,1344.29 L469.88,1345.80" fill="none" stroke="#E6583F" stroke-width="2.2"/>
<g fill="#D8563E"><circle cx="474.2" cy="1102.4" r="4.05"/><circle cx="477.8" cy="1110.4" r="4.05"/><circle cx="471.4" cy="1116" r="4.05"/><circle cx="468.1" cy="1122.3" r="4.05"/><circle cx="471" cy="1155.2" r="4.05"/><circle cx="477.1" cy="1160.1" r="4.05"/><circle cx="468.1" cy="1166.9" r="4.05"/><circle cx="480.5" cy="1167.4" r="4.05"/><circle cx="501.3" cy="1177.1" r="4.05"/><circle cx="480.5" cy="1179.4" r="4.05"/><circle cx="487.3" cy="1182.8" r="4.05"/><circle cx="492.9" cy="1185" r="4.05"/><circle cx="471" cy="1184.6" r="4.05"/><circle cx="504.9" cy="1191.4" r="4.05"/><circle cx="483.2" cy="1192.5" r="4.05"/><circle cx="474.2" cy="1195.2" r="4.05"/><circle cx="468.1" cy="1200.2" r="4.05"/><circle cx="507.6" cy="1204.3" r="4.05"/><circle cx="499" cy="1208.8" r="4.05"/><circle cx="495.2" cy="1215.2" r="4.05"/><circle cx="489.5" cy="1215.6" r="4.05"/><circle cx="486.2" cy="1217.4" r="4.05"/><circle cx="477.1" cy="1214.5" r="4.05"/><circle cx="474.2" cy="1224.7" r="4.05"/><circle cx="498.6" cy="1230.3" r="4.05"/><circle cx="495.2" cy="1229.2" r="4.05"/><circle cx="480.5" cy="1233.7" r="4.05"/><circle cx="492.9" cy="1236.4" r="4.05"/><circle cx="471" cy="1239.4" r="4.05"/><circle cx="477.1" cy="1239.4" r="4.05"/><circle cx="468.1" cy="1245" r="4.05"/><circle cx="483.2" cy="1242.8" r="4.05"/><circle cx="489.5" cy="1248.4" r="4.05"/><circle cx="477.8" cy="1260.9" r="4.05"/><circle cx="486.8" cy="1260.2" r="4.05"/><circle cx="471" cy="1265.9" r="4.05"/><circle cx="480.5" cy="1267.2" r="4.05"/><circle cx="474.2" cy="1275.6" r="4.05"/><circle cx="468.1" cy="1286.5" r="4.05"/><circle cx="483.2" cy="1289.2" r="4.05"/><circle cx="468.1" cy="1308" r="4.05"/><circle cx="471.4" cy="1308.4" r="4.05"/></g>
<g fill="#EB5E44"><circle cx="474.2" cy="1102.4" r="3.5"/><circle cx="477.8" cy="1110.4" r="3.5"/><circle cx="471.4" cy="1116" r="3.5"/><circle cx="468.1" cy="1122.3" r="3.5"/><circle cx="471" cy="1155.2" r="3.5"/><circle cx="477.1" cy="1160.1" r="3.5"/><circle cx="468.1" cy="1166.9" r="3.5"/><circle cx="480.5" cy="1167.4" r="3.5"/><circle cx="501.3" cy="1177.1" r="3.5"/><circle cx="480.5" cy="1179.4" r="3.5"/><circle cx="487.3" cy="1182.8" r="3.5"/><circle cx="492.9" cy="1185" r="3.5"/><circle cx="471" cy="1184.6" r="3.5"/><circle cx="504.9" cy="1191.4" r="3.5"/><circle cx="483.2" cy="1192.5" r="3.5"/><circle cx="474.2" cy="1195.2" r="3.5"/><circle cx="468.1" cy="1200.2" r="3.5"/><circle cx="507.6" cy="1204.3" r="3.5"/><circle cx="499" cy="1208.8" r="3.5"/><circle cx="495.2" cy="1215.2" r="3.5"/><circle cx="489.5" cy="1215.6" r="3.5"/><circle cx="486.2" cy="1217.4" r="3.5"/><circle cx="477.1" cy="1214.5" r="3.5"/><circle cx="474.2" cy="1224.7" r="3.5"/><circle cx="498.6" cy="1230.3" r="3.5"/><circle cx="495.2" cy="1229.2" r="3.5"/><circle cx="480.5" cy="1233.7" r="3.5"/><circle cx="492.9" cy="1236.4" r="3.5"/><circle cx="471" cy="1239.4" r="3.5"/><circle cx="477.1" cy="1239.4" r="3.5"/><circle cx="468.1" cy="1245" r="3.5"/><circle cx="483.2" cy="1242.8" r="3.5"/><circle cx="489.5" cy="1248.4" r="3.5"/><circle cx="477.8" cy="1260.9" r="3.5"/><circle cx="486.8" cy="1260.2" r="3.5"/><circle cx="471" cy="1265.9" r="3.5"/><circle cx="480.5" cy="1267.2" r="3.5"/><circle cx="474.2" cy="1275.6" r="3.5"/><circle cx="468.1" cy="1286.5" r="3.5"/><circle cx="483.2" cy="1289.2" r="3.5"/><circle cx="468.1" cy="1308" r="3.5"/><circle cx="471.4" cy="1308.4" r="3.5"/></g>
<line x1="616.78" y1="1172.6" x2="616.78" y2="1194.8" stroke="#EE8842" stroke-width="1.8"/>
<line x1="616.78" y1="1254.5" x2="616.78" y2="1265.4" stroke="#EE8842" stroke-width="1.8"/>
<line x1="601.48" y1="1172.6" x2="632.08" y2="1172.6" stroke="#EE8842" stroke-width="2.3"/>
<line x1="601.48" y1="1265.4" x2="632.08" y2="1265.4" stroke="#EE8842" stroke-width="2.3"/>
<rect x="588.33" y="1195.65" width="56.80" height="58.00" fill="#FCCB72" stroke="#F5A462" stroke-width="1.7"/>
<rect x="611.98" y="1213.70" width="9.6" height="9.6" fill="none" stroke="#F38F4C" stroke-width="1.3"/>
<g stroke="#EC9A62" stroke-width="1.1" fill="none"><line x1="610.58" y1="1057.30" x2="622.98" y2="1069.70"/><line x1="610.58" y1="1069.70" x2="622.98" y2="1057.30"/><line x1="611.28" y1="1063.5" x2="622.28" y2="1063.5"/></g>
<g stroke="#EC9A62" stroke-width="1.1" fill="none"><line x1="610.58" y1="1291.30" x2="622.98" y2="1303.70"/><line x1="610.58" y1="1303.70" x2="622.98" y2="1291.30"/><line x1="611.28" y1="1297.5" x2="622.28" y2="1297.5"/></g>
<path d="M656.00,1063.50 L656.03,1064.92 L656.06,1066.34 L656.10,1067.76 L656.14,1069.17 L656.18,1070.59 L656.23,1072.01 L656.27,1073.43 L656.33,1074.85 L656.38,1076.27 L656.44,1077.69 L656.51,1079.10 L656.58,1080.52 L656.66,1081.94 L656.74,1083.36 L656.82,1084.78 L656.92,1086.20 L657.01,1087.62 L657.12,1089.03 L657.23,1090.45 L657.35,1091.87 L657.48,1093.29 L657.62,1094.71 L657.76,1096.13 L657.91,1097.55 L658.08,1098.96 L658.25,1100.38 L658.43,1101.80 L658.62,1103.22 L658.82,1104.64 L659.04,1106.06 L659.27,1107.48 L659.50,1108.89 L659.75,1110.31 L660.02,1111.73 L660.29,1113.15 L660.58,1114.57 L660.89,1115.99 L661.20,1117.41 L661.54,1118.83 L661.88,1120.24 L662.24,1121.66 L662.62,1123.08 L663.01,1124.50 L663.42,1125.92 L663.85,1127.34 L664.29,1128.76 L664.74,1130.17 L665.22,1131.59 L665.71,1133.01 L666.21,1134.43 L666.73,1135.85 L667.27,1137.27 L667.82,1138.69 L668.39,1140.10 L668.98,1141.52 L669.58,1142.94 L670.20,1144.36 L670.83,1145.78 L671.47,1147.20 L672.13,1148.62 L672.80,1150.03 L673.48,1151.45 L674.18,1152.87 L674.89,1154.29 L675.60,1155.71 L676.33,1157.13 L677.07,1158.55 L677.81,1159.96 L678.56,1161.38 L679.31,1162.80 L680.07,1164.22 L680.84,1165.64 L681.60,1167.06 L682.37,1168.48 L683.14,1169.89 L683.90,1171.31 L684.66,1172.73 L685.42,1174.15 L686.18,1175.57 L686.92,1176.99 L687.66,1178.41 L688.38,1179.82 L689.10,1181.24 L689.80,1182.66 L690.49,1184.08 L691.16,1185.50 L691.82,1186.92 L692.46,1188.34 L693.08,1189.75 L693.67,1191.17 L694.24,1192.59 L694.79,1194.01 L695.32,1195.43 L695.82,1196.85 L696.29,1198.27 L696.73,1199.68 L697.14,1201.10 L697.52,1202.52 L697.87,1203.94 L698.18,1205.36 L698.47,1206.78 L698.72,1208.20 L698.93,1209.62 L699.11,1211.03 L699.25,1212.45 L699.36,1213.87 L699.43,1215.29 L699.47,1216.71 L699.47,1218.13 L699.43,1219.55 L699.36,1220.96 L699.25,1222.38 L699.10,1223.80 L698.92,1225.22 L698.70,1226.64 L698.45,1228.06 L698.16,1229.48 L697.84,1230.89 L697.49,1232.31 L697.11,1233.73 L696.70,1235.15 L696.25,1236.57 L695.78,1237.99 L695.28,1239.41 L694.76,1240.82 L694.20,1242.24 L693.63,1243.66 L693.03,1245.08 L692.41,1246.50 L691.77,1247.92 L691.12,1249.34 L690.44,1250.75 L689.75,1252.17 L689.05,1253.59 L688.33,1255.01 L687.60,1256.43 L686.87,1257.85 L686.12,1259.27 L685.37,1260.68 L684.61,1262.10 L683.85,1263.52 L683.08,1264.94 L682.31,1266.36 L681.55,1267.78 L680.78,1269.20 L680.02,1270.61 L679.26,1272.03 L678.50,1273.45 L677.75,1274.87 L677.01,1276.29 L676.28,1277.71 L675.55,1279.13 L674.83,1280.54 L674.13,1281.96 L673.43,1283.38 L672.75,1284.80 L672.08,1286.22 L671.42,1287.64 L670.78,1289.06 L670.15,1290.47 L669.54,1291.89 L668.94,1293.31 L668.35,1294.73 L667.78,1296.15 L667.23,1297.57 L666.69,1298.99 L666.17,1300.41 L665.67,1301.82 L665.18,1303.24 L664.71,1304.66 L664.25,1306.08 L663.82,1307.50 L663.39,1308.92 L662.98,1310.34 L662.59,1311.75 L662.22,1313.17 L661.86,1314.59 L661.51,1316.01 L661.18,1317.43 L660.86,1318.85 L660.56,1320.27 L660.27,1321.68 L660.00,1323.10 L659.73,1324.52 L659.49,1325.94 L659.25,1327.36 L659.02,1328.78 L658.81,1330.20 L658.61,1331.61 L658.42,1333.03 L658.23,1334.45 L658.06,1335.87 L657.90,1337.29 L657.75,1338.71 L657.61,1340.13 L657.47,1341.54 L657.34,1342.96 L657.22,1344.38 L657.11,1345.80" fill="none" stroke="#F08C47" stroke-width="2.2"/>
<g fill="#DF8345"><circle cx="656.2" cy="1063.5" r="4.05"/><circle cx="663.7" cy="1130" r="4.05"/><circle cx="656.2" cy="1145.4" r="4.05"/><circle cx="658.7" cy="1154.5" r="4.05"/><circle cx="661" cy="1170.3" r="4.05"/><circle cx="671.6" cy="1176.7" r="4.05"/><circle cx="688.6" cy="1176" r="4.05"/><circle cx="666" cy="1182.1" r="4.05"/><circle cx="661" cy="1188.4" r="4.05"/><circle cx="681.4" cy="1191.2" r="4.05"/><circle cx="668.7" cy="1194.8" r="4.05"/><circle cx="658.1" cy="1198.6" r="4.05"/><circle cx="663.3" cy="1198" r="4.05"/><circle cx="673.2" cy="1197.5" r="4.05"/><circle cx="676.8" cy="1198" r="4.05"/><circle cx="691.3" cy="1203.2" r="4.05"/><circle cx="679.1" cy="1207" r="4.05"/><circle cx="684.5" cy="1210" r="4.05"/><circle cx="686.3" cy="1207" r="4.05"/><circle cx="656.2" cy="1210.4" r="4.05"/><circle cx="666" cy="1219.7" r="4.05"/><circle cx="676.2" cy="1222" r="4.05"/><circle cx="673.9" cy="1225.8" r="4.05"/><circle cx="691.3" cy="1219" r="4.05"/><circle cx="656.2" cy="1227.4" r="4.05"/><circle cx="689" cy="1229.2" r="4.05"/><circle cx="686.3" cy="1240.5" r="4.05"/><circle cx="681.4" cy="1246.2" r="4.05"/><circle cx="694.3" cy="1246.8" r="4.05"/><circle cx="697.2" cy="1249.1" r="4.05"/><circle cx="659.2" cy="1254.1" r="4.05"/><circle cx="663.7" cy="1255.2" r="4.05"/><circle cx="668.7" cy="1255.2" r="4.05"/><circle cx="671.6" cy="1258.2" r="4.05"/><circle cx="656.2" cy="1259.3" r="4.05"/><circle cx="679.5" cy="1253" r="4.05"/><circle cx="683.6" cy="1250.7" r="4.05"/><circle cx="679.1" cy="1255.2" r="4.05"/><circle cx="661" cy="1271.1" r="4.05"/><circle cx="663.7" cy="1268.8" r="4.05"/><circle cx="668.7" cy="1288" r="4.05"/><circle cx="658.7" cy="1297.1" r="4.05"/><circle cx="666" cy="1297.5" r="4.05"/></g>
<g fill="#F38F4C"><circle cx="656.2" cy="1063.5" r="3.5"/><circle cx="663.7" cy="1130" r="3.5"/><circle cx="656.2" cy="1145.4" r="3.5"/><circle cx="658.7" cy="1154.5" r="3.5"/><circle cx="661" cy="1170.3" r="3.5"/><circle cx="671.6" cy="1176.7" r="3.5"/><circle cx="688.6" cy="1176" r="3.5"/><circle cx="666" cy="1182.1" r="3.5"/><circle cx="661" cy="1188.4" r="3.5"/><circle cx="681.4" cy="1191.2" r="3.5"/><circle cx="668.7" cy="1194.8" r="3.5"/><circle cx="658.1" cy="1198.6" r="3.5"/><circle cx="663.3" cy="1198" r="3.5"/><circle cx="673.2" cy="1197.5" r="3.5"/><circle cx="676.8" cy="1198" r="3.5"/><circle cx="691.3" cy="1203.2" r="3.5"/><circle cx="679.1" cy="1207" r="3.5"/><circle cx="684.5" cy="1210" r="3.5"/><circle cx="686.3" cy="1207" r="3.5"/><circle cx="656.2" cy="1210.4" r="3.5"/><circle cx="666" cy="1219.7" r="3.5"/><circle cx="676.2" cy="1222" r="3.5"/><circle cx="673.9" cy="1225.8" r="3.5"/><circle cx="691.3" cy="1219" r="3.5"/><circle cx="656.2" cy="1227.4" r="3.5"/><circle cx="689" cy="1229.2" r="3.5"/><circle cx="686.3" cy="1240.5" r="3.5"/><circle cx="681.4" cy="1246.2" r="3.5"/><circle cx="694.3" cy="1246.8" r="3.5"/><circle cx="697.2" cy="1249.1" r="3.5"/><circle cx="659.2" cy="1254.1" r="3.5"/><circle cx="663.7" cy="1255.2" r="3.5"/><circle cx="668.7" cy="1255.2" r="3.5"/><circle cx="671.6" cy="1258.2" r="3.5"/><circle cx="656.2" cy="1259.3" r="3.5"/><circle cx="679.5" cy="1253" r="3.5"/><circle cx="683.6" cy="1250.7" r="3.5"/><circle cx="679.1" cy="1255.2" r="3.5"/><circle cx="661" cy="1271.1" r="3.5"/><circle cx="663.7" cy="1268.8" r="3.5"/><circle cx="668.7" cy="1288" r="3.5"/><circle cx="658.7" cy="1297.1" r="3.5"/><circle cx="666" cy="1297.5" r="3.5"/></g>
<line x1="804.72" y1="1155.9" x2="804.72" y2="1177.3" stroke="#4A8418" stroke-width="1.8"/>
<line x1="804.72" y1="1258.9" x2="804.72" y2="1269.8" stroke="#4A8418" stroke-width="1.8"/>
<line x1="789.42" y1="1155.9" x2="820.02" y2="1155.9" stroke="#4A8418" stroke-width="2.3"/>
<line x1="789.42" y1="1269.8" x2="820.02" y2="1269.8" stroke="#4A8418" stroke-width="2.3"/>
<rect x="776.27" y="1178.15" width="56.80" height="79.90" fill="#A2C180" stroke="#76A44C" stroke-width="1.7"/>
<rect x="799.92" y="1207.60" width="9.6" height="9.6" fill="none" stroke="#F2F7EE" stroke-width="1.3"/>
<path d="M844.37,1027.30 L844.38,1028.90 L844.40,1030.50 L844.42,1032.10 L844.44,1033.70 L844.46,1035.30 L844.49,1036.90 L844.52,1038.50 L844.54,1040.10 L844.58,1041.70 L844.61,1043.29 L844.65,1044.89 L844.69,1046.49 L844.73,1048.09 L844.78,1049.69 L844.83,1051.29 L844.88,1052.89 L844.94,1054.49 L845.00,1056.09 L845.07,1057.69 L845.14,1059.29 L845.21,1060.89 L845.30,1062.49 L845.38,1064.09 L845.48,1065.69 L845.58,1067.29 L845.68,1068.89 L845.80,1070.49 L845.92,1072.09 L846.04,1073.69 L846.18,1075.28 L846.32,1076.88 L846.47,1078.48 L846.64,1080.08 L846.81,1081.68 L846.99,1083.28 L847.18,1084.88 L847.38,1086.48 L847.59,1088.08 L847.81,1089.68 L848.04,1091.28 L848.29,1092.88 L848.55,1094.48 L848.82,1096.08 L849.10,1097.68 L849.40,1099.28 L849.71,1100.88 L850.03,1102.48 L850.37,1104.08 L850.72,1105.68 L851.09,1107.27 L851.47,1108.87 L851.87,1110.47 L852.28,1112.07 L852.70,1113.67 L853.15,1115.27 L853.60,1116.87 L854.07,1118.47 L854.56,1120.07 L855.06,1121.67 L855.58,1123.27 L856.12,1124.87 L856.66,1126.47 L857.22,1128.07 L857.80,1129.67 L858.39,1131.27 L858.99,1132.87 L859.61,1134.47 L860.24,1136.07 L860.88,1137.67 L861.54,1139.26 L862.20,1140.86 L862.88,1142.46 L863.56,1144.06 L864.25,1145.66 L864.95,1147.26 L865.66,1148.86 L866.38,1150.46 L867.09,1152.06 L867.82,1153.66 L868.54,1155.26 L869.27,1156.86 L870.00,1158.46 L870.73,1160.06 L871.46,1161.66 L872.18,1163.26 L872.90,1164.86 L873.62,1166.46 L874.32,1168.06 L875.02,1169.66 L875.71,1171.25 L876.39,1172.85 L877.06,1174.45 L877.72,1176.05 L878.36,1177.65 L878.98,1179.25 L879.59,1180.85 L880.18,1182.45 L880.74,1184.05 L881.29,1185.65 L881.81,1187.25 L882.31,1188.85 L882.79,1190.45 L883.24,1192.05 L883.66,1193.65 L884.06,1195.25 L884.43,1196.85 L884.76,1198.45 L885.07,1200.05 L885.34,1201.65 L885.59,1203.24 L885.80,1204.84 L885.98,1206.44 L886.12,1208.04 L886.23,1209.64 L886.31,1211.24 L886.35,1212.84 L886.36,1214.44 L886.34,1216.04 L886.28,1217.64 L886.19,1219.24 L886.06,1220.84 L885.90,1222.44 L885.70,1224.04 L885.48,1225.64 L885.22,1227.24 L884.93,1228.84 L884.61,1230.44 L884.26,1232.04 L883.88,1233.64 L883.47,1235.23 L883.03,1236.83 L882.57,1238.43 L882.08,1240.03 L881.57,1241.63 L881.04,1243.23 L880.48,1244.83 L879.90,1246.43 L879.30,1248.03 L878.69,1249.63 L878.06,1251.23 L877.41,1252.83 L876.75,1254.43 L876.08,1256.03 L875.39,1257.63 L874.70,1259.23 L873.99,1260.83 L873.28,1262.43 L872.56,1264.03 L871.84,1265.63 L871.12,1267.22 L870.39,1268.82 L869.66,1270.42 L868.93,1272.02 L868.20,1273.62 L867.48,1275.22 L866.76,1276.82 L866.04,1278.42 L865.33,1280.02 L864.62,1281.62 L863.93,1283.22 L863.24,1284.82 L862.56,1286.42 L861.89,1288.02 L861.23,1289.62 L860.58,1291.22 L859.94,1292.82 L859.32,1294.42 L858.71,1296.02 L858.11,1297.62 L857.53,1299.21 L856.96,1300.81 L856.40,1302.41 L855.86,1304.01 L855.34,1305.61 L854.83,1307.21 L854.33,1308.81 L853.85,1310.41 L853.39,1312.01 L852.94,1313.61 L852.50,1315.21 L852.08,1316.81 L851.68,1318.41 L851.29,1320.01 L850.92,1321.61 L850.56,1323.21 L850.21,1324.81 L849.88,1326.41 L849.56,1328.01 L849.26,1329.61 L848.97,1331.20 L848.69,1332.80 L848.43,1334.40 L848.17,1336.00 L847.93,1337.60 L847.71,1339.20 L847.49,1340.80 L847.28,1342.40 L847.09,1344.00 L846.90,1345.60" fill="none" stroke="#548E22" stroke-width="2.2"/>
<g fill="#568B28"><circle cx="843.9" cy="1064" r="4.05"/><circle cx="846.8" cy="1070" r="4.05"/><circle cx="843.9" cy="1095.2" r="4.05"/><circle cx="854" cy="1132.4" r="4.05"/><circle cx="846.8" cy="1139.6" r="4.05"/><circle cx="856.9" cy="1154.5" r="4.05"/><circle cx="843.9" cy="1163.6" r="4.05"/><circle cx="848" cy="1160.7" r="4.05"/><circle cx="851.6" cy="1160.7" r="4.05"/><circle cx="859.3" cy="1163.6" r="4.05"/><circle cx="849.2" cy="1177.3" r="4.05"/><circle cx="856.9" cy="1181.1" r="4.05"/><circle cx="843.9" cy="1194.1" r="4.05"/><circle cx="859.3" cy="1195.6" r="4.05"/><circle cx="854.5" cy="1200.8" r="4.05"/><circle cx="846.8" cy="1206.8" r="4.05"/><circle cx="852.1" cy="1206.8" r="4.05"/><circle cx="861.7" cy="1208" r="4.05"/><circle cx="856.9" cy="1218.4" r="4.05"/><circle cx="854" cy="1221.2" r="4.05"/><circle cx="861.2" cy="1221.2" r="4.05"/><circle cx="864.8" cy="1225.6" r="4.05"/><circle cx="852.1" cy="1227.2" r="4.05"/><circle cx="876.8" cy="1219.6" r="4.05"/><circle cx="884.7" cy="1223.6" r="4.05"/><circle cx="846.8" cy="1234" r="4.05"/><circle cx="868.9" cy="1240" r="4.05"/><circle cx="874.4" cy="1240.9" r="4.05"/><circle cx="843.9" cy="1253.6" r="4.05"/><circle cx="849.2" cy="1255.3" r="4.05"/><circle cx="854" cy="1261.6" r="4.05"/><circle cx="859.3" cy="1259.6" r="4.05"/><circle cx="867.2" cy="1257.2" r="4.05"/><circle cx="872.7" cy="1258.9" r="4.05"/><circle cx="879.2" cy="1252" r="4.05"/><circle cx="881.6" cy="1258" r="4.05"/><circle cx="846.8" cy="1271.2" r="4.05"/><circle cx="861.7" cy="1270" r="4.05"/><circle cx="856.9" cy="1282" r="4.05"/><circle cx="851.6" cy="1289.6" r="4.05"/><circle cx="849.2" cy="1295.2" r="4.05"/><circle cx="843.9" cy="1301.6" r="4.05"/></g>
<g fill="#5E982C"><circle cx="843.9" cy="1064" r="3.5"/><circle cx="846.8" cy="1070" r="3.5"/><circle cx="843.9" cy="1095.2" r="3.5"/><circle cx="854" cy="1132.4" r="3.5"/><circle cx="846.8" cy="1139.6" r="3.5"/><circle cx="856.9" cy="1154.5" r="3.5"/><circle cx="843.9" cy="1163.6" r="3.5"/><circle cx="848" cy="1160.7" r="3.5"/><circle cx="851.6" cy="1160.7" r="3.5"/><circle cx="859.3" cy="1163.6" r="3.5"/><circle cx="849.2" cy="1177.3" r="3.5"/><circle cx="856.9" cy="1181.1" r="3.5"/><circle cx="843.9" cy="1194.1" r="3.5"/><circle cx="859.3" cy="1195.6" r="3.5"/><circle cx="854.5" cy="1200.8" r="3.5"/><circle cx="846.8" cy="1206.8" r="3.5"/><circle cx="852.1" cy="1206.8" r="3.5"/><circle cx="861.7" cy="1208" r="3.5"/><circle cx="856.9" cy="1218.4" r="3.5"/><circle cx="854" cy="1221.2" r="3.5"/><circle cx="861.2" cy="1221.2" r="3.5"/><circle cx="864.8" cy="1225.6" r="3.5"/><circle cx="852.1" cy="1227.2" r="3.5"/><circle cx="876.8" cy="1219.6" r="3.5"/><circle cx="884.7" cy="1223.6" r="3.5"/><circle cx="846.8" cy="1234" r="3.5"/><circle cx="868.9" cy="1240" r="3.5"/><circle cx="874.4" cy="1240.9" r="3.5"/><circle cx="843.9" cy="1253.6" r="3.5"/><circle cx="849.2" cy="1255.3" r="3.5"/><circle cx="854" cy="1261.6" r="3.5"/><circle cx="859.3" cy="1259.6" r="3.5"/><circle cx="867.2" cy="1257.2" r="3.5"/><circle cx="872.7" cy="1258.9" r="3.5"/><circle cx="879.2" cy="1252" r="3.5"/><circle cx="881.6" cy="1258" r="3.5"/><circle cx="846.8" cy="1271.2" r="3.5"/><circle cx="861.7" cy="1270" r="3.5"/><circle cx="856.9" cy="1282" r="3.5"/><circle cx="851.6" cy="1289.6" r="3.5"/><circle cx="849.2" cy="1295.2" r="3.5"/><circle cx="843.9" cy="1301.6" r="3.5"/></g>
<line x1="992.66" y1="1085.1" x2="992.66" y2="1106.9" stroke="#2868A4" stroke-width="1.8"/>
<line x1="992.66" y1="1232.3" x2="992.66" y2="1252.0" stroke="#2868A4" stroke-width="1.8"/>
<line x1="977.36" y1="1085.1" x2="1007.96" y2="1085.1" stroke="#2868A4" stroke-width="2.3"/>
<line x1="977.36" y1="1252.0" x2="1007.96" y2="1252.0" stroke="#2868A4" stroke-width="2.3"/>
<rect x="964.21" y="1107.75" width="56.80" height="123.70" fill="#8AB0D5" stroke="#6293C6" stroke-width="1.7"/>
<rect x="987.86" y="1163.30" width="9.6" height="9.6" fill="none" stroke="#F0F5FA" stroke-width="1.3"/>
<path d="M1032.16,896.90 L1032.18,899.15 L1032.20,901.41 L1032.23,903.66 L1032.26,905.92 L1032.28,908.17 L1032.32,910.43 L1032.35,912.68 L1032.39,914.94 L1032.42,917.19 L1032.47,919.45 L1032.51,921.70 L1032.56,923.96 L1032.61,926.21 L1032.67,928.47 L1032.72,930.72 L1032.79,932.98 L1032.85,935.23 L1032.92,937.49 L1033.00,939.74 L1033.08,942.00 L1033.17,944.25 L1033.26,946.51 L1033.35,948.76 L1033.46,951.01 L1033.57,953.27 L1033.68,955.52 L1033.80,957.78 L1033.93,960.03 L1034.07,962.29 L1034.21,964.54 L1034.37,966.80 L1034.53,969.05 L1034.69,971.31 L1034.87,973.56 L1035.06,975.82 L1035.25,978.07 L1035.46,980.33 L1035.67,982.58 L1035.90,984.84 L1036.14,987.09 L1036.38,989.35 L1036.64,991.60 L1036.91,993.86 L1037.19,996.11 L1037.49,998.36 L1037.79,1000.62 L1038.11,1002.87 L1038.44,1005.13 L1038.78,1007.38 L1039.14,1009.64 L1039.51,1011.89 L1039.89,1014.15 L1040.29,1016.40 L1040.70,1018.66 L1041.12,1020.91 L1041.55,1023.17 L1042.00,1025.42 L1042.47,1027.68 L1042.94,1029.93 L1043.43,1032.19 L1043.94,1034.44 L1044.45,1036.70 L1044.98,1038.95 L1045.52,1041.21 L1046.08,1043.46 L1046.64,1045.72 L1047.22,1047.97 L1047.81,1050.22 L1048.41,1052.48 L1049.02,1054.73 L1049.64,1056.99 L1050.27,1059.24 L1050.91,1061.50 L1051.56,1063.75 L1052.22,1066.01 L1052.88,1068.26 L1053.55,1070.52 L1054.22,1072.77 L1054.90,1075.03 L1055.59,1077.28 L1056.27,1079.54 L1056.96,1081.79 L1057.65,1084.05 L1058.34,1086.30 L1059.03,1088.56 L1059.71,1090.81 L1060.40,1093.07 L1061.08,1095.32 L1061.76,1097.57 L1062.43,1099.83 L1063.09,1102.08 L1063.74,1104.34 L1064.39,1106.59 L1065.02,1108.85 L1065.65,1111.10 L1066.26,1113.36 L1066.85,1115.61 L1067.44,1117.87 L1068.00,1120.12 L1068.55,1122.38 L1069.08,1124.63 L1069.59,1126.89 L1070.09,1129.14 L1070.56,1131.40 L1071.01,1133.65 L1071.43,1135.91 L1071.84,1138.16 L1072.22,1140.42 L1072.57,1142.67 L1072.90,1144.93 L1073.20,1147.18 L1073.47,1149.43 L1073.72,1151.69 L1073.93,1153.94 L1074.12,1156.20 L1074.28,1158.45 L1074.41,1160.71 L1074.51,1162.96 L1074.58,1165.22 L1074.62,1167.47 L1074.63,1169.73 L1074.61,1171.98 L1074.56,1174.24 L1074.48,1176.49 L1074.37,1178.75 L1074.22,1181.00 L1074.05,1183.26 L1073.85,1185.51 L1073.63,1187.77 L1073.37,1190.02 L1073.09,1192.28 L1072.78,1194.53 L1072.44,1196.78 L1072.08,1199.04 L1071.69,1201.29 L1071.28,1203.55 L1070.84,1205.80 L1070.38,1208.06 L1069.90,1210.31 L1069.40,1212.57 L1068.88,1214.82 L1068.35,1217.08 L1067.79,1219.33 L1067.22,1221.59 L1066.63,1223.84 L1066.03,1226.10 L1065.41,1228.35 L1064.78,1230.61 L1064.15,1232.86 L1063.50,1235.12 L1062.84,1237.37 L1062.17,1239.63 L1061.50,1241.88 L1060.82,1244.14 L1060.14,1246.39 L1059.46,1248.64 L1058.77,1250.90 L1058.08,1253.15 L1057.39,1255.41 L1056.70,1257.66 L1056.01,1259.92 L1055.33,1262.17 L1054.65,1264.43 L1053.97,1266.68 L1053.30,1268.94 L1052.63,1271.19 L1051.97,1273.45 L1051.32,1275.70 L1050.67,1277.96 L1050.03,1280.21 L1049.41,1282.47 L1048.79,1284.72 L1048.18,1286.98 L1047.59,1289.23 L1047.00,1291.49 L1046.43,1293.74 L1045.87,1295.99 L1045.32,1298.25 L1044.78,1300.50 L1044.26,1302.76 L1043.74,1305.01 L1043.25,1307.27 L1042.76,1309.52 L1042.29,1311.78 L1041.83,1314.03 L1041.39,1316.29 L1040.96,1318.54 L1040.54,1320.80 L1040.14,1323.05 L1039.74,1325.31 L1039.37,1327.56 L1039.00,1329.82 L1038.65,1332.07 L1038.31,1334.33 L1037.99,1336.58 L1037.68,1338.84 L1037.37,1341.09 L1037.09,1343.35 L1036.81,1345.60" fill="none" stroke="#2C71AE" stroke-width="2.2"/>
<g fill="#2C70A9"><circle cx="1031.7" cy="886.8" r="4.05"/><circle cx="1036.8" cy="1009.5" r="4.05"/><circle cx="1031.7" cy="1016.9" r="4.05"/><circle cx="1031.7" cy="1083.4" r="4.05"/><circle cx="1036.8" cy="1085.8" r="4.05"/><circle cx="1040.8" cy="1089.1" r="4.05"/><circle cx="1057.6" cy="1090.1" r="4.05"/><circle cx="1066" cy="1095.2" r="4.05"/><circle cx="1036.8" cy="1097.5" r="4.05"/><circle cx="1053.6" cy="1097.9" r="4.05"/><circle cx="1044.9" cy="1107.9" r="4.05"/><circle cx="1049.2" cy="1106.9" r="4.05"/><circle cx="1031.7" cy="1118.7" r="4.05"/><circle cx="1062" cy="1124.4" r="4.05"/><circle cx="1031.7" cy="1138.9" r="4.05"/><circle cx="1049.2" cy="1146.3" r="4.05"/><circle cx="1036.8" cy="1151.3" r="4.05"/><circle cx="1040.8" cy="1165.1" r="4.05"/><circle cx="1044.9" cy="1171.5" r="4.05"/><circle cx="1031.7" cy="1174.8" r="4.05"/><circle cx="1036.8" cy="1177.5" r="4.05"/><circle cx="1070.4" cy="1186.6" r="4.05"/><circle cx="1062" cy="1190" r="4.05"/><circle cx="1049.2" cy="1191" r="4.05"/><circle cx="1053.6" cy="1197.7" r="4.05"/><circle cx="1044.9" cy="1203.4" r="4.05"/><circle cx="1040.8" cy="1206.1" r="4.05"/><circle cx="1066" cy="1211.1" r="4.05"/><circle cx="1057.6" cy="1213.5" r="4.05"/><circle cx="1040.8" cy="1217.2" r="4.05"/><circle cx="1049.2" cy="1227.3" r="4.05"/><circle cx="1057.6" cy="1226.2" r="4.05"/><circle cx="1070.4" cy="1231.3" r="4.05"/><circle cx="1044.9" cy="1235.7" r="4.05"/><circle cx="1053.6" cy="1239.7" r="4.05"/><circle cx="1031.7" cy="1243" r="4.05"/><circle cx="1036.8" cy="1247.4" r="4.05"/><circle cx="1066" cy="1243" r="4.05"/><circle cx="1062" cy="1248.1" r="4.05"/><circle cx="1031.7" cy="1262.5" r="4.05"/><circle cx="1044.9" cy="1281.7" r="4.05"/><circle cx="1036.8" cy="1295.1" r="4.05"/><circle cx="1040.8" cy="1293.5" r="4.05"/></g>
<g fill="#307AB8"><circle cx="1031.7" cy="886.8" r="3.5"/><circle cx="1036.8" cy="1009.5" r="3.5"/><circle cx="1031.7" cy="1016.9" r="3.5"/><circle cx="1031.7" cy="1083.4" r="3.5"/><circle cx="1036.8" cy="1085.8" r="3.5"/><circle cx="1040.8" cy="1089.1" r="3.5"/><circle cx="1057.6" cy="1090.1" r="3.5"/><circle cx="1066" cy="1095.2" r="3.5"/><circle cx="1036.8" cy="1097.5" r="3.5"/><circle cx="1053.6" cy="1097.9" r="3.5"/><circle cx="1044.9" cy="1107.9" r="3.5"/><circle cx="1049.2" cy="1106.9" r="3.5"/><circle cx="1031.7" cy="1118.7" r="3.5"/><circle cx="1062" cy="1124.4" r="3.5"/><circle cx="1031.7" cy="1138.9" r="3.5"/><circle cx="1049.2" cy="1146.3" r="3.5"/><circle cx="1036.8" cy="1151.3" r="3.5"/><circle cx="1040.8" cy="1165.1" r="3.5"/><circle cx="1044.9" cy="1171.5" r="3.5"/><circle cx="1031.7" cy="1174.8" r="3.5"/><circle cx="1036.8" cy="1177.5" r="3.5"/><circle cx="1070.4" cy="1186.6" r="3.5"/><circle cx="1062" cy="1190" r="3.5"/><circle cx="1049.2" cy="1191" r="3.5"/><circle cx="1053.6" cy="1197.7" r="3.5"/><circle cx="1044.9" cy="1203.4" r="3.5"/><circle cx="1040.8" cy="1206.1" r="3.5"/><circle cx="1066" cy="1211.1" r="3.5"/><circle cx="1057.6" cy="1213.5" r="3.5"/><circle cx="1040.8" cy="1217.2" r="3.5"/><circle cx="1049.2" cy="1227.3" r="3.5"/><circle cx="1057.6" cy="1226.2" r="3.5"/><circle cx="1070.4" cy="1231.3" r="3.5"/><circle cx="1044.9" cy="1235.7" r="3.5"/><circle cx="1053.6" cy="1239.7" r="3.5"/><circle cx="1031.7" cy="1243" r="3.5"/><circle cx="1036.8" cy="1247.4" r="3.5"/><circle cx="1066" cy="1243" r="3.5"/><circle cx="1062" cy="1248.1" r="3.5"/><circle cx="1031.7" cy="1262.5" r="3.5"/><circle cx="1044.9" cy="1281.7" r="3.5"/><circle cx="1036.8" cy="1295.1" r="3.5"/><circle cx="1040.8" cy="1293.5" r="3.5"/></g>
<line x1="1180.60" y1="1161.8" x2="1180.60" y2="1167.7" stroke="#3E3288" stroke-width="1.8"/>
<line x1="1180.60" y1="1244.6" x2="1180.60" y2="1252.5" stroke="#3E3288" stroke-width="1.8"/>
<line x1="1165.30" y1="1161.8" x2="1195.90" y2="1161.8" stroke="#3E3288" stroke-width="2.3"/>
<line x1="1165.30" y1="1252.5" x2="1195.90" y2="1252.5" stroke="#3E3288" stroke-width="2.3"/>
<rect x="1152.15" y="1168.55" width="56.80" height="75.20" fill="#9C92C5" stroke="#7466AE" stroke-width="1.7"/>
<rect x="1175.80" y="1202.70" width="9.6" height="9.6" fill="none" stroke="#F2F0F8" stroke-width="1.3"/>
<path d="M1220.26,1060.20 L1220.28,1061.64 L1220.31,1063.07 L1220.34,1064.51 L1220.38,1065.95 L1220.41,1067.39 L1220.45,1068.82 L1220.50,1070.26 L1220.54,1071.70 L1220.60,1073.13 L1220.65,1074.57 L1220.71,1076.01 L1220.78,1077.45 L1220.85,1078.88 L1220.92,1080.32 L1221.01,1081.76 L1221.09,1083.19 L1221.19,1084.63 L1221.29,1086.07 L1221.40,1087.51 L1221.52,1088.94 L1221.65,1090.38 L1221.78,1091.82 L1221.92,1093.26 L1222.08,1094.69 L1222.24,1096.13 L1222.42,1097.57 L1222.60,1099.00 L1222.80,1100.44 L1223.01,1101.88 L1223.23,1103.32 L1223.47,1104.75 L1223.72,1106.19 L1223.98,1107.63 L1224.26,1109.06 L1224.55,1110.50 L1224.86,1111.94 L1225.19,1113.38 L1225.53,1114.81 L1225.89,1116.25 L1226.26,1117.69 L1226.65,1119.12 L1227.06,1120.56 L1227.49,1122.00 L1227.94,1123.44 L1228.41,1124.87 L1228.89,1126.31 L1229.39,1127.75 L1229.91,1129.18 L1230.45,1130.62 L1231.01,1132.06 L1231.59,1133.50 L1232.19,1134.93 L1232.80,1136.37 L1233.44,1137.81 L1234.09,1139.25 L1234.75,1140.68 L1235.44,1142.12 L1236.14,1143.56 L1236.86,1144.99 L1237.59,1146.43 L1238.33,1147.87 L1239.09,1149.31 L1239.86,1150.74 L1240.64,1152.18 L1241.43,1153.62 L1242.23,1155.05 L1243.04,1156.49 L1243.85,1157.93 L1244.67,1159.37 L1245.49,1160.80 L1246.32,1162.24 L1247.14,1163.68 L1247.97,1165.11 L1248.79,1166.55 L1249.60,1167.99 L1250.41,1169.43 L1251.21,1170.86 L1252.00,1172.30 L1252.78,1173.74 L1253.55,1175.17 L1254.30,1176.61 L1255.03,1178.05 L1255.74,1179.49 L1256.44,1180.92 L1257.11,1182.36 L1257.76,1183.80 L1258.38,1185.24 L1258.97,1186.67 L1259.54,1188.11 L1260.07,1189.55 L1260.57,1190.98 L1261.04,1192.42 L1261.47,1193.86 L1261.87,1195.30 L1262.23,1196.73 L1262.55,1198.17 L1262.83,1199.61 L1263.08,1201.04 L1263.28,1202.48 L1263.44,1203.92 L1263.56,1205.36 L1263.64,1206.79 L1263.67,1208.23 L1263.67,1209.67 L1263.62,1211.10 L1263.53,1212.54 L1263.39,1213.98 L1263.22,1215.42 L1263.00,1216.85 L1262.75,1218.29 L1262.45,1219.73 L1262.12,1221.16 L1261.75,1222.60 L1261.34,1224.04 L1260.89,1225.48 L1260.41,1226.91 L1259.90,1228.35 L1259.36,1229.79 L1258.79,1231.23 L1258.18,1232.66 L1257.55,1234.10 L1256.90,1235.54 L1256.22,1236.97 L1255.52,1238.41 L1254.80,1239.85 L1254.06,1241.29 L1253.31,1242.72 L1252.53,1244.16 L1251.75,1245.60 L1250.96,1247.03 L1250.15,1248.47 L1249.34,1249.91 L1248.53,1251.35 L1247.70,1252.78 L1246.88,1254.22 L1246.06,1255.66 L1245.23,1257.09 L1244.41,1258.53 L1243.59,1259.97 L1242.78,1261.41 L1241.98,1262.84 L1241.18,1264.28 L1240.39,1265.72 L1239.61,1267.15 L1238.85,1268.59 L1238.09,1270.03 L1237.35,1271.47 L1236.63,1272.90 L1235.91,1274.34 L1235.22,1275.78 L1234.54,1277.22 L1233.88,1278.65 L1233.23,1280.09 L1232.61,1281.53 L1232.00,1282.96 L1231.41,1284.40 L1230.83,1285.84 L1230.28,1287.28 L1229.75,1288.71 L1229.23,1290.15 L1228.73,1291.59 L1228.26,1293.02 L1227.80,1294.46 L1227.36,1295.90 L1226.93,1297.34 L1226.53,1298.77 L1226.14,1300.21 L1225.77,1301.65 L1225.42,1303.08 L1225.08,1304.52 L1224.76,1305.96 L1224.46,1307.40 L1224.17,1308.83 L1223.90,1310.27 L1223.64,1311.71 L1223.39,1313.14 L1223.16,1314.58 L1222.94,1316.02 L1222.74,1317.46 L1222.54,1318.89 L1222.36,1320.33 L1222.19,1321.77 L1222.03,1323.21 L1221.88,1324.64 L1221.74,1326.08 L1221.60,1327.52 L1221.48,1328.95 L1221.37,1330.39 L1221.26,1331.83 L1221.16,1333.27 L1221.07,1334.70 L1220.98,1336.14 L1220.90,1337.58 L1220.82,1339.01 L1220.76,1340.45 L1220.69,1341.89 L1220.63,1343.33 L1220.58,1344.76 L1220.53,1346.20" fill="none" stroke="#483C90" stroke-width="2.2"/>
<g fill="#4B3F8C"><circle cx="1220.2" cy="1086.1" r="4.05"/><circle cx="1220.2" cy="1123" r="4.05"/><circle cx="1239.3" cy="1135.5" r="4.05"/><circle cx="1229.6" cy="1145.4" r="4.05"/><circle cx="1220.2" cy="1161.2" r="4.05"/><circle cx="1226.8" cy="1159.6" r="4.05"/><circle cx="1223.5" cy="1165.1" r="4.05"/><circle cx="1224.6" cy="1168.4" r="4.05"/><circle cx="1232.2" cy="1167.3" r="4.05"/><circle cx="1236.6" cy="1160.3" r="4.05"/><circle cx="1241.5" cy="1157.4" r="4.05"/><circle cx="1235.6" cy="1164" r="4.05"/><circle cx="1220.2" cy="1184.9" r="4.05"/><circle cx="1222.4" cy="1191.4" r="4.05"/><circle cx="1225.7" cy="1195.8" r="4.05"/><circle cx="1230" cy="1196.9" r="4.05"/><circle cx="1234.4" cy="1196.3" r="4.05"/><circle cx="1238.8" cy="1192.5" r="4.05"/><circle cx="1229.6" cy="1204.6" r="4.05"/><circle cx="1220.2" cy="1223.3" r="4.05"/><circle cx="1223" cy="1225.5" r="4.05"/><circle cx="1226.8" cy="1228.3" r="4.05"/><circle cx="1224.6" cy="1231.4" r="4.05"/><circle cx="1234.4" cy="1220" r="4.05"/><circle cx="1238.8" cy="1223.3" r="4.05"/><circle cx="1241.5" cy="1228.3" r="4.05"/><circle cx="1244.3" cy="1234.9" r="4.05"/><circle cx="1258.2" cy="1220.4" r="4.05"/><circle cx="1260.4" cy="1233.6" r="4.05"/><circle cx="1254.2" cy="1235.3" r="4.05"/><circle cx="1256.4" cy="1244.1" r="4.05"/><circle cx="1252" cy="1247.4" r="4.05"/><circle cx="1246.5" cy="1250.7" r="4.05"/><circle cx="1248.7" cy="1254" r="4.05"/><circle cx="1232.2" cy="1247.4" r="4.05"/><circle cx="1236.6" cy="1254" r="4.05"/><circle cx="1229" cy="1256.9" r="4.05"/><circle cx="1220.2" cy="1266.1" r="4.05"/><circle cx="1222.4" cy="1278.1" r="4.05"/><circle cx="1226.8" cy="1281.4" r="4.05"/></g>
<g fill="#524599"><circle cx="1220.2" cy="1086.1" r="3.5"/><circle cx="1220.2" cy="1123" r="3.5"/><circle cx="1239.3" cy="1135.5" r="3.5"/><circle cx="1229.6" cy="1145.4" r="3.5"/><circle cx="1220.2" cy="1161.2" r="3.5"/><circle cx="1226.8" cy="1159.6" r="3.5"/><circle cx="1223.5" cy="1165.1" r="3.5"/><circle cx="1224.6" cy="1168.4" r="3.5"/><circle cx="1232.2" cy="1167.3" r="3.5"/><circle cx="1236.6" cy="1160.3" r="3.5"/><circle cx="1241.5" cy="1157.4" r="3.5"/><circle cx="1235.6" cy="1164" r="3.5"/><circle cx="1220.2" cy="1184.9" r="3.5"/><circle cx="1222.4" cy="1191.4" r="3.5"/><circle cx="1225.7" cy="1195.8" r="3.5"/><circle cx="1230" cy="1196.9" r="3.5"/><circle cx="1234.4" cy="1196.3" r="3.5"/><circle cx="1238.8" cy="1192.5" r="3.5"/><circle cx="1229.6" cy="1204.6" r="3.5"/><circle cx="1220.2" cy="1223.3" r="3.5"/><circle cx="1223" cy="1225.5" r="3.5"/><circle cx="1226.8" cy="1228.3" r="3.5"/><circle cx="1224.6" cy="1231.4" r="3.5"/><circle cx="1234.4" cy="1220" r="3.5"/><circle cx="1238.8" cy="1223.3" r="3.5"/><circle cx="1241.5" cy="1228.3" r="3.5"/><circle cx="1244.3" cy="1234.9" r="3.5"/><circle cx="1258.2" cy="1220.4" r="3.5"/><circle cx="1260.4" cy="1233.6" r="3.5"/><circle cx="1254.2" cy="1235.3" r="3.5"/><circle cx="1256.4" cy="1244.1" r="3.5"/><circle cx="1252" cy="1247.4" r="3.5"/><circle cx="1246.5" cy="1250.7" r="3.5"/><circle cx="1248.7" cy="1254" r="3.5"/><circle cx="1232.2" cy="1247.4" r="3.5"/><circle cx="1236.6" cy="1254" r="3.5"/><circle cx="1229" cy="1256.9" r="3.5"/><circle cx="1220.2" cy="1266.1" r="3.5"/><circle cx="1222.4" cy="1278.1" r="3.5"/><circle cx="1226.8" cy="1281.4" r="3.5"/></g>
<g filter="url(#gf)"><text class="g" transform="translate(77.40,650.80) scale(0.9600,1.0250)">0</text><text class="g" transform="translate(96.65,650.80) scale(1.0000,1.0000)">.</text><text class="g" transform="translate(116.40,650.80) scale(0.9600,1.0250)">0</text><text class="g" transform="translate(135.70,650.80) scale(0.9600,1.0250)">0</text><text class="g" transform="translate(77.40,552.07) scale(0.9600,1.0250)">0</text><text class="g" transform="translate(96.65,552.07) scale(1.0000,1.0000)">.</text><text class="g" transform="translate(116.40,552.07) scale(0.9600,1.0250)">0</text><text class="g" transform="translate(135.33,552.07) scale(0.9600,1.0250)">5</text><text class="g" transform="translate(77.40,453.34) scale(0.9600,1.0250)">0</text><text class="g" transform="translate(96.65,453.34) scale(1.0000,1.0000)">.</text><text class="g" transform="translate(115.87,453.34) scale(0.9600,1.0250)">1</text><text class="g" transform="translate(135.70,453.34) scale(0.9600,1.0250)">0</text><text class="g" transform="translate(77.40,354.61) scale(0.9600,1.0250)">0</text><text class="g" transform="translate(96.65,354.61) scale(1.0000,1.0000)">.</text><text class="g" transform="translate(115.87,354.61) scale(0.9600,1.0250)">1</text><text class="g" transform="translate(135.33,354.61) scale(0.9600,1.0250)">5</text><text class="g" transform="translate(77.40,255.88) scale(0.9600,1.0250)">0</text><text class="g" transform="translate(96.65,255.88) scale(1.0000,1.0000)">.</text><text class="g" transform="translate(116.62,255.88) scale(0.9600,1.0250)">2</text><text class="g" transform="translate(135.70,255.88) scale(0.9600,1.0250)">0</text><text class="g" transform="translate(77.40,157.15) scale(0.9600,1.0250)">0</text><text class="g" transform="translate(96.65,157.15) scale(1.0000,1.0000)">.</text><text class="g" transform="translate(116.62,157.15) scale(0.9600,1.0250)">2</text><text class="g" transform="translate(135.33,157.15) scale(0.9600,1.0250)">5</text><text class="g" transform="translate(77.40,58.42) scale(0.9600,1.0250)">0</text><text class="g" transform="translate(96.65,58.42) scale(1.0000,1.0000)">.</text><text class="g" transform="translate(116.23,58.42) scale(0.9600,1.0250)">3</text><text class="g" transform="translate(135.70,58.42) scale(0.9600,1.0250)">0</text><text class="g" transform="translate(259.16,699.00) scale(0.5595,1.0232)">M</text><text class="g" transform="translate(278.89,699.00) scale(0.9200,0.9900)">1</text><text class="g" transform="translate(447.10,699.00) scale(0.5595,1.0232)">M</text><text class="g" transform="translate(467.55,699.00) scale(0.9200,0.9900)">2</text><text class="g" transform="translate(635.04,699.00) scale(0.5595,1.0232)">M</text><text class="g" transform="translate(654.93,699.00) scale(0.9200,0.9900)">5</text><text class="g" transform="translate(833.38,699.00) scale(0.8190,1.0232)">L</text><text class="g" transform="translate(1020.45,699.00) scale(0.7040,1.0232)">H</text><text class="g" transform="translate(1189.45,699.00) scale(0.6453,1.0149)">A</text><text class="g" transform="translate(1208.81,698.69) scale(0.6396,1.0113)">V</text><text class="g" transform="translate(1227.97,698.90) scale(0.6886,1.0158)">G</text><text class="p" transform="translate(3.58,37.95) scale(1.2654,1.1690)">(</text><text class="p" transform="translate(20.02,38.92) scale(1.2658,1.2317)">a</text><text class="p" transform="translate(42.37,37.95) scale(1.2654,1.1690)">)</text><text class="g" transform="translate(60.10,482.80) rotate(-90) scale(0.6979,1.1989)">M</text><text class="g" transform="translate(60.17,457.41) rotate(-90) scale(1.1207,1.0968)">o</text><text class="g" transform="translate(60.15,433.09) rotate(-90) scale(1.0295,1.1512)">d</text><text class="g" transform="translate(60.15,408.93) rotate(-90) scale(1.0112,1.1520)">u</text><text class="g" transform="translate(60.60,382.24) rotate(-90) scale(1.3037,1.1674)">l</text><text class="g" transform="translate(60.15,361.85) rotate(-90) scale(1.0378,1.1520)">u</text><text class="g" transform="translate(60.16,340.91) rotate(-90) scale(1.5304,1.1228)">s</text><text class="g" transform="translate(55.39,307.54) rotate(-90) scale(1.1583,1.1635)">(</text><text class="g" transform="translate(60.10,292.44) rotate(-90) scale(0.7280,1.1989)">M</text><text class="g" transform="translate(60.10,266.92) rotate(-90) scale(0.9747,1.1989)">P</text><text class="g" transform="translate(60.36,243.49) rotate(-90) scale(1.2721,1.1378)">a</text><text class="g" transform="translate(55.39,220.48) rotate(-90) scale(1.1486,1.1635)">)</text><text class="g" transform="translate(77.40,1404.50) scale(0.9600,1.0250)">0</text><text class="g" transform="translate(96.65,1404.50) scale(1.0000,1.0000)">.</text><text class="g" transform="translate(116.40,1404.50) scale(0.9600,1.0250)">0</text><text class="g" transform="translate(135.70,1404.50) scale(0.9600,1.0250)">0</text><text class="g" transform="translate(77.40,1296.58) scale(0.9600,1.0250)">0</text><text class="g" transform="translate(96.65,1296.58) scale(1.0000,1.0000)">.</text><text class="g" transform="translate(116.40,1296.58) scale(0.9600,1.0250)">0</text><text class="g" transform="translate(135.33,1296.58) scale(0.9600,1.0250)">5</text><text class="g" transform="translate(77.40,1188.66) scale(0.9600,1.0250)">0</text><text class="g" transform="translate(96.65,1188.66) scale(1.0000,1.0000)">.</text><text class="g" transform="translate(115.87,1188.66) scale(0.9600,1.0250)">1</text><text class="g" transform="translate(135.70,1188.66) scale(0.9600,1.0250)">0</text><text class="g" transform="translate(77.40,1080.74) scale(0.9600,1.0250)">0</text><text class="g" transform="translate(96.65,1080.74) scale(1.0000,1.0000)">.</text><text class="g" transform="translate(115.87,1080.74) scale(0.9600,1.0250)">1</text><text class="g" transform="translate(135.33,1080.74) scale(0.9600,1.0250)">5</text><text class="g" transform="translate(77.40,972.82) scale(0.9600,1.0250)">0</text><text class="g" transform="translate(96.65,972.82) scale(1.0000,1.0000)">.</text><text class="g" transform="translate(116.62,972.82) scale(0.9600,1.0250)">2</text><text class="g" transform="translate(135.70,972.82) scale(0.9600,1.0250)">0</text><text class="g" transform="translate(77.40,864.90) scale(0.9600,1.0250)">0</text><text class="g" transform="translate(96.65,864.90) scale(1.0000,1.0000)">.</text><text class="g" transform="translate(116.62,864.90) scale(0.9600,1.0250)">2</text><text class="g" transform="translate(135.33,864.90) scale(0.9600,1.0250)">5</text><text class="g" transform="translate(259.16,1452.20) scale(0.5595,1.0232)">M</text><text class="g" transform="translate(278.89,1452.20) scale(0.9200,0.9900)">1</text><text class="g" transform="translate(447.10,1452.20) scale(0.5595,1.0232)">M</text><text class="g" transform="translate(467.55,1452.20) scale(0.9200,0.9900)">2</text><text class="g" transform="translate(635.04,1452.20) scale(0.5595,1.0232)">M</text><text class="g" transform="translate(654.93,1452.20) scale(0.9200,0.9900)">5</text><text class="g" transform="translate(833.38,1452.20) scale(0.8190,1.0232)">L</text><text class="g" transform="translate(1020.45,1452.20) scale(0.7040,1.0232)">H</text><text class="g" transform="translate(1189.45,1452.20) scale(0.6453,1.0149)">A</text><text class="g" transform="translate(1208.81,1451.89) scale(0.6396,1.0113)">V</text><text class="g" transform="translate(1227.97,1452.10) scale(0.6886,1.0158)">G</text><text class="p" transform="translate(3.58,808.77) scale(1.2654,1.1773)">(</text><text class="p" transform="translate(20.20,809.62) scale(1.2611,1.2258)">b</text><text class="p" transform="translate(45.13,808.77) scale(1.2167,1.1773)">)</text><text class="g" transform="translate(60.10,1235.10) rotate(-90) scale(0.6979,1.1989)">M</text><text class="g" transform="translate(60.17,1209.71) rotate(-90) scale(1.1207,1.0968)">o</text><text class="g" transform="translate(60.15,1185.39) rotate(-90) scale(1.0295,1.1512)">d</text><text class="g" transform="translate(60.15,1161.23) rotate(-90) scale(1.0112,1.1520)">u</text><text class="g" transform="translate(60.60,1134.54) rotate(-90) scale(1.3037,1.1674)">l</text><text class="g" transform="translate(60.15,1114.15) rotate(-90) scale(1.0378,1.1520)">u</text><text class="g" transform="translate(60.16,1093.21) rotate(-90) scale(1.5304,1.1228)">s</text><text class="g" transform="translate(55.39,1059.84) rotate(-90) scale(1.1583,1.1635)">(</text><text class="g" transform="translate(60.10,1044.74) rotate(-90) scale(0.7280,1.1989)">M</text><text class="g" transform="translate(60.10,1019.22) rotate(-90) scale(0.9747,1.1989)">P</text><text class="g" transform="translate(60.36,995.79) rotate(-90) scale(1.2721,1.1378)">a</text><text class="g" transform="translate(55.39,972.78) rotate(-90) scale(1.1486,1.1635)">)</text></g>
</svg></body></html>
